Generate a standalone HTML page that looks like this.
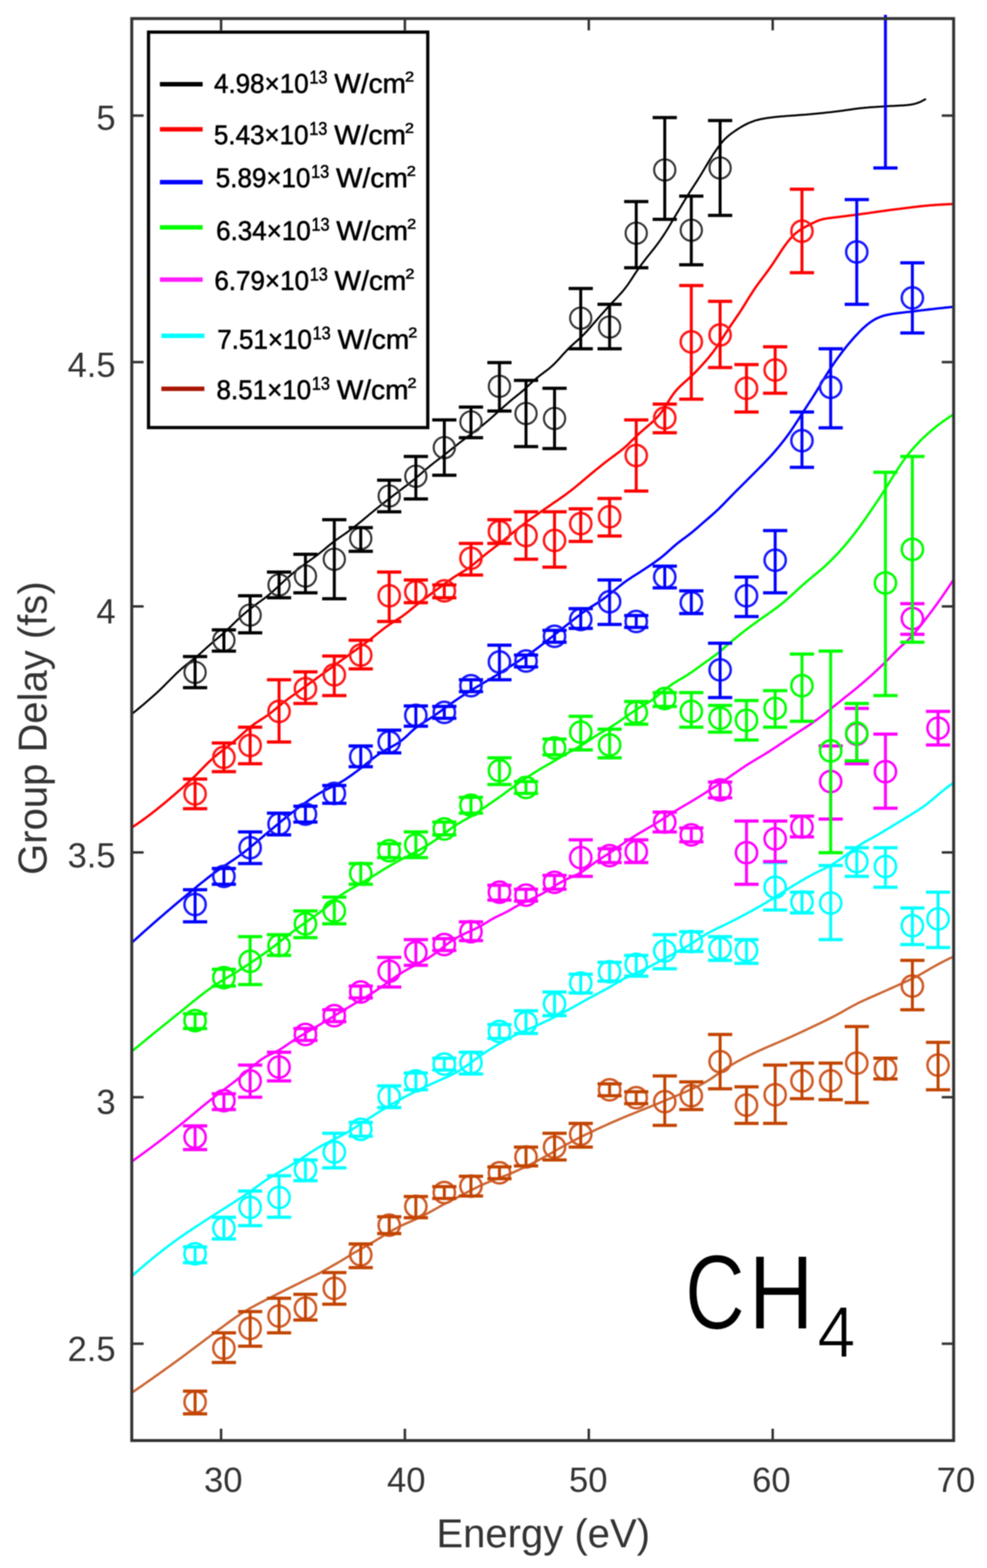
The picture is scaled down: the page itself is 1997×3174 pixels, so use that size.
<!DOCTYPE html><html><head><meta charset="utf-8"><title>Group Delay vs Energy (CH4)</title><style>html,body{margin:0;padding:0;background:#fff;}svg{display:block;} #wrap{width:1997px;height:3174px;overflow:hidden;filter:blur(0.8px);}</style></head><body><div id="wrap">
<svg xmlns="http://www.w3.org/2000/svg" width="1997" height="3174" viewBox="0 0 1997 3174">
<rect x="0" y="0" width="1997" height="3174" fill="#ffffff"/>
<defs><clipPath id="cc"><rect x="266.6" y="37.6" width="1662.9" height="2878.4"/></clipPath></defs>
<defs><clipPath id="ca"><rect x="266.6" y="28.0" width="1662.9" height="2888.0"/></clipPath></defs>
<g><path clip-path="url(#cc)" d="M267.0,2819.0 L271.0,2816.3 L275.0,2813.5 L279.0,2810.7 L283.0,2808.0 L287.0,2805.2 L291.0,2802.4 L295.0,2799.6 L299.0,2796.8 L303.0,2794.0 L307.0,2791.2 L311.0,2788.4 L315.0,2785.5 L319.0,2782.7 L323.0,2779.9 L327.0,2777.0 L331.0,2774.2 L335.0,2771.3 L339.0,2768.4 L343.0,2765.6 L347.0,2762.7 L351.0,2759.8 L355.0,2756.9 L359.0,2754.0 L363.0,2751.0 L367.0,2748.1 L371.0,2745.1 L375.0,2742.2 L379.0,2739.2 L383.0,2736.2 L387.0,2733.2 L391.0,2730.2 L395.0,2727.2 L399.0,2724.2 L403.0,2721.1 L407.0,2718.1 L411.0,2715.1 L415.0,2712.1 L419.0,2709.1 L423.0,2706.1 L427.0,2703.1 L431.0,2700.2 L435.0,2697.2 L439.0,2694.2 L443.0,2691.3 L447.0,2688.3 L451.0,2685.3 L455.0,2682.4 L459.0,2679.4 L463.0,2676.5 L467.0,2673.5 L471.0,2670.7 L475.0,2667.8 L479.0,2665.1 L483.0,2662.4 L487.0,2659.8 L491.0,2657.2 L495.0,2654.8 L499.0,2652.4 L503.0,2650.0 L507.0,2647.7 L511.0,2645.5 L515.0,2643.3 L519.0,2641.1 L523.0,2639.0 L527.0,2636.9 L531.0,2634.8 L535.0,2632.8 L539.0,2630.7 L543.0,2628.7 L547.0,2626.6 L551.0,2624.6 L555.0,2622.6 L559.0,2620.5 L563.0,2618.5 L567.0,2616.5 L571.0,2614.5 L575.0,2612.5 L579.0,2610.5 L583.0,2608.5 L587.0,2606.5 L591.0,2604.5 L595.0,2602.5 L599.0,2600.5 L603.0,2598.6 L607.0,2596.6 L611.0,2594.6 L615.0,2592.7 L619.0,2590.7 L623.0,2588.7 L627.0,2586.8 L631.0,2584.8 L635.0,2582.9 L639.0,2580.9 L643.0,2578.9 L647.0,2576.8 L651.0,2574.6 L655.0,2572.4 L659.0,2570.1 L663.0,2567.8 L667.0,2565.5 L671.0,2563.2 L675.0,2560.9 L679.0,2558.6 L683.0,2556.3 L687.0,2554.0 L691.0,2551.6 L695.0,2549.2 L699.0,2546.7 L703.0,2544.2 L707.0,2541.7 L711.0,2539.2 L715.0,2536.8 L719.0,2534.5 L723.0,2532.3 L727.0,2530.1 L731.0,2527.9 L735.0,2525.7 L739.0,2523.5 L743.0,2521.2 L747.0,2518.8 L751.0,2516.5 L755.0,2514.1 L759.0,2511.7 L763.0,2509.3 L767.0,2506.9 L771.0,2504.4 L775.0,2502.0 L779.0,2499.5 L783.0,2497.1 L787.0,2494.6 L791.0,2492.3 L795.0,2489.9 L799.0,2487.6 L803.0,2485.5 L807.0,2483.4 L811.0,2481.4 L815.0,2479.5 L819.0,2477.7 L823.0,2476.0 L827.0,2474.3 L831.0,2472.5 L835.0,2470.8 L839.0,2469.0 L843.0,2467.1 L847.0,2465.2 L851.0,2463.3 L855.0,2461.3 L859.0,2459.3 L863.0,2457.2 L867.0,2455.1 L871.0,2452.9 L875.0,2450.7 L879.0,2448.5 L883.0,2446.2 L887.0,2444.0 L891.0,2441.7 L895.0,2439.5 L899.0,2437.4 L903.0,2435.3 L907.0,2433.2 L911.0,2431.1 L915.0,2429.1 L919.0,2427.0 L923.0,2425.0 L927.0,2422.9 L931.0,2420.8 L935.0,2418.7 L939.0,2416.6 L943.0,2414.5 L947.0,2412.4 L951.0,2410.4 L955.0,2408.3 L959.0,2406.3 L963.0,2404.3 L967.0,2402.3 L971.0,2400.4 L975.0,2398.6 L979.0,2396.8 L983.0,2395.0 L987.0,2393.4 L991.0,2391.8 L995.0,2390.2 L999.0,2388.6 L1003.0,2387.1 L1007.0,2385.6 L1011.0,2384.1 L1015.0,2382.6 L1019.0,2381.1 L1023.0,2379.6 L1027.0,2378.0 L1031.0,2376.4 L1035.0,2374.7 L1039.0,2373.0 L1043.0,2371.2 L1047.0,2369.4 L1051.0,2367.6 L1055.0,2365.7 L1059.0,2363.8 L1063.0,2361.9 L1067.0,2359.9 L1071.0,2357.9 L1075.0,2355.9 L1079.0,2353.9 L1083.0,2351.9 L1087.0,2349.8 L1091.0,2347.7 L1095.0,2345.6 L1099.0,2343.4 L1103.0,2341.2 L1107.0,2339.0 L1111.0,2336.8 L1115.0,2334.5 L1119.0,2332.1 L1123.0,2329.8 L1127.0,2327.5 L1131.0,2325.1 L1135.0,2322.8 L1139.0,2320.6 L1143.0,2318.3 L1147.0,2316.1 L1151.0,2314.0 L1155.0,2311.9 L1159.0,2309.8 L1163.0,2307.7 L1167.0,2305.7 L1171.0,2303.6 L1175.0,2301.6 L1179.0,2299.7 L1183.0,2297.7 L1187.0,2295.7 L1191.0,2293.8 L1195.0,2291.9 L1199.0,2290.0 L1203.0,2288.1 L1207.0,2286.2 L1211.0,2284.4 L1215.0,2282.5 L1219.0,2280.7 L1223.0,2278.9 L1227.0,2277.1 L1231.0,2275.3 L1235.0,2273.5 L1239.0,2271.7 L1243.0,2270.0 L1247.0,2268.3 L1251.0,2266.5 L1255.0,2264.8 L1259.0,2263.1 L1263.0,2261.4 L1267.0,2259.8 L1271.0,2258.1 L1275.0,2256.5 L1279.0,2254.9 L1283.0,2253.3 L1287.0,2251.7 L1291.0,2250.1 L1295.0,2248.4 L1299.0,2246.8 L1303.0,2245.2 L1307.0,2243.6 L1311.0,2242.0 L1315.0,2240.4 L1319.0,2238.7 L1323.0,2237.1 L1327.0,2235.5 L1331.0,2233.9 L1335.0,2232.2 L1339.0,2230.6 L1343.0,2228.9 L1347.0,2227.3 L1351.0,2225.6 L1355.0,2224.0 L1359.0,2222.3 L1363.0,2220.6 L1367.0,2218.8 L1371.0,2217.1 L1375.0,2215.4 L1379.0,2213.7 L1383.0,2211.9 L1387.0,2210.2 L1391.0,2208.4 L1395.0,2206.6 L1399.0,2204.8 L1403.0,2202.9 L1407.0,2201.1 L1411.0,2199.1 L1415.0,2197.1 L1419.0,2195.0 L1423.0,2192.9 L1427.0,2190.6 L1431.0,2188.2 L1435.0,2185.8 L1439.0,2183.2 L1443.0,2180.5 L1447.0,2177.7 L1451.0,2174.9 L1455.0,2172.1 L1459.0,2169.2 L1463.0,2166.4 L1467.0,2163.7 L1471.0,2161.1 L1475.0,2158.6 L1479.0,2156.1 L1483.0,2153.8 L1487.0,2151.5 L1491.0,2149.2 L1495.0,2147.1 L1499.0,2145.0 L1503.0,2142.9 L1507.0,2140.8 L1511.0,2138.8 L1515.0,2136.9 L1519.0,2134.9 L1523.0,2133.0 L1527.0,2131.1 L1531.0,2129.2 L1535.0,2127.3 L1539.0,2125.5 L1543.0,2123.7 L1547.0,2121.9 L1551.0,2120.1 L1555.0,2118.4 L1559.0,2116.7 L1563.0,2115.0 L1567.0,2113.3 L1571.0,2111.6 L1575.0,2109.9 L1579.0,2108.1 L1583.0,2106.4 L1587.0,2104.7 L1591.0,2102.9 L1595.0,2101.2 L1599.0,2099.4 L1603.0,2097.6 L1607.0,2095.8 L1611.0,2093.9 L1615.0,2092.1 L1619.0,2090.2 L1623.0,2088.4 L1627.0,2086.5 L1631.0,2084.6 L1635.0,2082.7 L1639.0,2080.8 L1643.0,2078.9 L1647.0,2077.0 L1651.0,2075.1 L1655.0,2073.2 L1659.0,2071.3 L1663.0,2069.4 L1667.0,2067.4 L1671.0,2065.5 L1675.0,2063.5 L1679.0,2061.5 L1683.0,2059.5 L1687.0,2057.4 L1691.0,2055.3 L1695.0,2053.2 L1699.0,2051.0 L1703.0,2048.8 L1707.0,2046.5 L1711.0,2044.2 L1715.0,2042.0 L1719.0,2039.7 L1723.0,2037.5 L1727.0,2035.4 L1731.0,2033.3 L1735.0,2031.2 L1739.0,2029.2 L1743.0,2027.3 L1747.0,2025.4 L1751.0,2023.6 L1755.0,2021.8 L1759.0,2020.0 L1763.0,2018.2 L1767.0,2016.5 L1771.0,2014.7 L1775.0,2013.0 L1779.0,2011.2 L1783.0,2009.4 L1787.0,2007.6 L1791.0,2005.9 L1795.0,2004.1 L1799.0,2002.3 L1803.0,2000.5 L1807.0,1998.7 L1811.0,1996.9 L1815.0,1995.1 L1819.0,1993.3 L1823.0,1991.5 L1827.0,1989.6 L1831.0,1987.8 L1835.0,1986.0 L1839.0,1984.1 L1843.0,1982.2 L1847.0,1980.3 L1851.0,1978.3 L1855.0,1976.3 L1859.0,1974.2 L1863.0,1972.0 L1867.0,1969.7 L1871.0,1967.4 L1875.0,1965.1 L1879.0,1962.7 L1883.0,1960.3 L1887.0,1958.0 L1891.0,1955.8 L1895.0,1953.6 L1899.0,1951.4 L1903.0,1949.3 L1907.0,1947.2 L1911.0,1945.2 L1915.0,1943.2 L1919.0,1941.2 L1923.0,1939.3 L1927.0,1937.4 L1930.0,1936.0" fill="none" stroke="#cc6633" stroke-width="4.8" stroke-linejoin="round" stroke-linecap="round"/><path clip-path="url(#cc)" d="M267.0,2583.0 L271.0,2579.4 L275.0,2575.9 L279.0,2572.4 L283.0,2568.9 L287.0,2565.5 L291.0,2562.1 L295.0,2558.7 L299.0,2555.3 L303.0,2552.0 L307.0,2548.7 L311.0,2545.4 L315.0,2542.2 L319.0,2538.9 L323.0,2535.8 L327.0,2532.6 L331.0,2529.5 L335.0,2526.4 L339.0,2523.3 L343.0,2520.3 L347.0,2517.3 L351.0,2514.4 L355.0,2511.5 L359.0,2508.6 L363.0,2505.8 L367.0,2503.0 L371.0,2500.2 L375.0,2497.5 L379.0,2494.8 L383.0,2492.1 L387.0,2489.4 L391.0,2486.8 L395.0,2484.1 L399.0,2481.5 L403.0,2478.9 L407.0,2476.3 L411.0,2473.7 L415.0,2471.1 L419.0,2468.5 L423.0,2465.9 L427.0,2463.3 L431.0,2460.7 L435.0,2458.1 L439.0,2455.6 L443.0,2453.0 L447.0,2450.5 L451.0,2447.9 L455.0,2445.4 L459.0,2442.9 L463.0,2440.3 L467.0,2437.8 L471.0,2435.3 L475.0,2432.7 L479.0,2430.1 L483.0,2427.5 L487.0,2424.9 L491.0,2422.3 L495.0,2419.6 L499.0,2416.9 L503.0,2414.1 L507.0,2411.3 L511.0,2408.4 L515.0,2405.5 L519.0,2402.5 L523.0,2399.6 L527.0,2396.7 L531.0,2393.8 L535.0,2391.0 L539.0,2388.3 L543.0,2385.7 L547.0,2383.1 L551.0,2380.7 L555.0,2378.3 L559.0,2376.0 L563.0,2373.7 L567.0,2371.4 L571.0,2369.1 L575.0,2366.9 L579.0,2364.6 L583.0,2362.2 L587.0,2359.8 L591.0,2357.3 L595.0,2354.8 L599.0,2352.3 L603.0,2349.7 L607.0,2347.0 L611.0,2344.4 L615.0,2341.7 L619.0,2339.1 L623.0,2336.4 L627.0,2333.8 L631.0,2331.2 L635.0,2328.7 L639.0,2326.2 L643.0,2323.8 L647.0,2321.4 L651.0,2319.1 L655.0,2316.9 L659.0,2314.8 L663.0,2312.8 L667.0,2310.7 L671.0,2308.7 L675.0,2306.8 L679.0,2304.8 L683.0,2302.8 L687.0,2300.8 L691.0,2298.7 L695.0,2296.5 L699.0,2294.3 L703.0,2292.0 L707.0,2289.6 L711.0,2287.2 L715.0,2284.7 L719.0,2282.1 L723.0,2279.5 L727.0,2276.8 L731.0,2274.2 L735.0,2271.5 L739.0,2268.8 L743.0,2266.2 L747.0,2263.5 L751.0,2260.9 L755.0,2258.4 L759.0,2255.8 L763.0,2253.3 L767.0,2250.8 L771.0,2248.3 L775.0,2245.9 L779.0,2243.4 L783.0,2241.0 L787.0,2238.6 L791.0,2236.2 L795.0,2233.8 L799.0,2231.5 L803.0,2229.2 L807.0,2227.0 L811.0,2224.8 L815.0,2222.6 L819.0,2220.5 L823.0,2218.4 L827.0,2216.3 L831.0,2214.3 L835.0,2212.3 L839.0,2210.3 L843.0,2208.4 L847.0,2206.4 L851.0,2204.5 L855.0,2202.6 L859.0,2200.7 L863.0,2198.8 L867.0,2196.9 L871.0,2195.1 L875.0,2193.2 L879.0,2191.4 L883.0,2189.6 L887.0,2187.8 L891.0,2186.1 L895.0,2184.3 L899.0,2182.5 L903.0,2180.7 L907.0,2178.9 L911.0,2177.0 L915.0,2175.0 L919.0,2173.0 L923.0,2170.8 L927.0,2168.5 L931.0,2166.1 L935.0,2163.6 L939.0,2160.9 L943.0,2158.2 L947.0,2155.3 L951.0,2152.4 L955.0,2149.4 L959.0,2146.4 L963.0,2143.5 L967.0,2140.6 L971.0,2137.7 L975.0,2134.9 L979.0,2132.2 L983.0,2129.6 L987.0,2127.0 L991.0,2124.5 L995.0,2122.0 L999.0,2119.5 L1003.0,2117.1 L1007.0,2114.7 L1011.0,2112.4 L1015.0,2110.1 L1019.0,2107.8 L1023.0,2105.6 L1027.0,2103.4 L1031.0,2101.3 L1035.0,2099.2 L1039.0,2097.2 L1043.0,2095.2 L1047.0,2093.3 L1051.0,2091.5 L1055.0,2089.6 L1059.0,2087.8 L1063.0,2086.1 L1067.0,2084.3 L1071.0,2082.5 L1075.0,2080.8 L1079.0,2079.0 L1083.0,2077.2 L1087.0,2075.4 L1091.0,2073.6 L1095.0,2071.8 L1099.0,2069.9 L1103.0,2068.1 L1107.0,2066.2 L1111.0,2064.3 L1115.0,2062.3 L1119.0,2060.4 L1123.0,2058.4 L1127.0,2056.3 L1131.0,2054.2 L1135.0,2052.1 L1139.0,2050.0 L1143.0,2047.8 L1147.0,2045.7 L1151.0,2043.5 L1155.0,2041.3 L1159.0,2039.1 L1163.0,2036.9 L1167.0,2034.6 L1171.0,2032.4 L1175.0,2030.1 L1179.0,2027.9 L1183.0,2025.7 L1187.0,2023.4 L1191.0,2021.2 L1195.0,2019.0 L1199.0,2016.8 L1203.0,2014.6 L1207.0,2012.5 L1211.0,2010.4 L1215.0,2008.2 L1219.0,2006.1 L1223.0,2004.0 L1227.0,2001.8 L1231.0,1999.6 L1235.0,1997.3 L1239.0,1994.9 L1243.0,1992.5 L1247.0,1990.1 L1251.0,1987.6 L1255.0,1985.3 L1259.0,1983.0 L1263.0,1980.9 L1267.0,1978.9 L1271.0,1976.9 L1275.0,1975.1 L1279.0,1973.3 L1283.0,1971.5 L1287.0,1969.7 L1291.0,1968.0 L1295.0,1966.1 L1299.0,1964.3 L1303.0,1962.4 L1307.0,1960.4 L1311.0,1958.4 L1315.0,1956.3 L1319.0,1954.2 L1323.0,1952.1 L1327.0,1949.9 L1331.0,1947.8 L1335.0,1945.6 L1339.0,1943.4 L1343.0,1941.3 L1347.0,1939.1 L1351.0,1937.0 L1355.0,1934.8 L1359.0,1932.7 L1363.0,1930.5 L1367.0,1928.4 L1371.0,1926.2 L1375.0,1924.0 L1379.0,1921.8 L1383.0,1919.6 L1387.0,1917.3 L1391.0,1915.0 L1395.0,1912.5 L1399.0,1910.1 L1403.0,1907.5 L1407.0,1904.9 L1411.0,1902.3 L1415.0,1899.6 L1419.0,1897.0 L1423.0,1894.5 L1427.0,1892.0 L1431.0,1889.7 L1435.0,1887.5 L1439.0,1885.3 L1443.0,1883.3 L1447.0,1881.3 L1451.0,1879.3 L1455.0,1877.4 L1459.0,1875.5 L1463.0,1873.7 L1467.0,1871.8 L1471.0,1869.8 L1475.0,1867.9 L1479.0,1865.9 L1483.0,1863.9 L1487.0,1861.8 L1491.0,1859.8 L1495.0,1857.7 L1499.0,1855.6 L1503.0,1853.4 L1507.0,1851.3 L1511.0,1849.2 L1515.0,1847.0 L1519.0,1844.8 L1523.0,1842.6 L1527.0,1840.4 L1531.0,1838.1 L1535.0,1835.9 L1539.0,1833.6 L1543.0,1831.2 L1547.0,1828.9 L1551.0,1826.5 L1555.0,1824.0 L1559.0,1821.6 L1563.0,1819.1 L1567.0,1816.5 L1571.0,1814.0 L1575.0,1811.5 L1579.0,1808.9 L1583.0,1806.4 L1587.0,1803.9 L1591.0,1801.4 L1595.0,1799.0 L1599.0,1796.5 L1603.0,1794.1 L1607.0,1791.6 L1611.0,1789.2 L1615.0,1786.8 L1619.0,1784.4 L1623.0,1782.0 L1627.0,1779.7 L1631.0,1777.4 L1635.0,1775.2 L1639.0,1773.0 L1643.0,1770.8 L1647.0,1768.7 L1651.0,1766.7 L1655.0,1764.7 L1659.0,1762.8 L1663.0,1760.8 L1667.0,1758.9 L1671.0,1756.9 L1675.0,1754.8 L1679.0,1752.6 L1683.0,1750.3 L1687.0,1747.8 L1691.0,1745.3 L1695.0,1742.7 L1699.0,1740.0 L1703.0,1737.2 L1707.0,1734.3 L1711.0,1731.3 L1715.0,1728.3 L1719.0,1725.3 L1723.0,1722.2 L1727.0,1719.3 L1731.0,1716.3 L1735.0,1713.5 L1739.0,1710.9 L1743.0,1708.3 L1747.0,1705.9 L1751.0,1703.6 L1755.0,1701.4 L1759.0,1699.2 L1763.0,1697.1 L1767.0,1694.9 L1771.0,1692.6 L1775.0,1690.4 L1779.0,1688.0 L1783.0,1685.7 L1787.0,1683.3 L1791.0,1680.9 L1795.0,1678.4 L1799.0,1676.0 L1803.0,1673.6 L1807.0,1671.1 L1811.0,1668.7 L1815.0,1666.3 L1819.0,1663.9 L1823.0,1661.4 L1827.0,1659.0 L1831.0,1656.6 L1835.0,1654.1 L1839.0,1651.7 L1843.0,1649.2 L1847.0,1646.8 L1851.0,1644.3 L1855.0,1641.8 L1859.0,1639.2 L1863.0,1636.5 L1867.0,1633.7 L1871.0,1630.9 L1875.0,1627.8 L1879.0,1624.7 L1883.0,1621.4 L1887.0,1618.0 L1891.0,1614.6 L1895.0,1611.2 L1899.0,1607.8 L1903.0,1604.5 L1907.0,1601.3 L1911.0,1598.1 L1915.0,1595.0 L1919.0,1592.0 L1923.0,1589.0 L1927.0,1586.1 L1930.0,1584.0" fill="none" stroke="#00ffff" stroke-width="4.8" stroke-linejoin="round" stroke-linecap="round"/><path clip-path="url(#cc)" d="M267.0,2351.0 L271.0,2348.2 L275.0,2345.3 L279.0,2342.4 L283.0,2339.5 L287.0,2336.6 L291.0,2333.7 L295.0,2330.7 L299.0,2327.8 L303.0,2324.8 L307.0,2321.9 L311.0,2318.9 L315.0,2315.9 L319.0,2312.8 L323.0,2309.8 L327.0,2306.8 L331.0,2303.7 L335.0,2300.6 L339.0,2297.5 L343.0,2294.4 L347.0,2291.3 L351.0,2288.1 L355.0,2284.9 L359.0,2281.7 L363.0,2278.5 L367.0,2275.2 L371.0,2272.0 L375.0,2268.6 L379.0,2265.3 L383.0,2262.0 L387.0,2258.6 L391.0,2255.3 L395.0,2251.9 L399.0,2248.6 L403.0,2245.3 L407.0,2241.9 L411.0,2238.6 L415.0,2235.4 L419.0,2232.1 L423.0,2228.9 L427.0,2225.7 L431.0,2222.5 L435.0,2219.4 L439.0,2216.3 L443.0,2213.3 L447.0,2210.2 L451.0,2207.2 L455.0,2204.2 L459.0,2201.2 L463.0,2198.2 L467.0,2195.1 L471.0,2192.1 L475.0,2189.0 L479.0,2185.9 L483.0,2182.7 L487.0,2179.5 L491.0,2176.1 L495.0,2172.7 L499.0,2169.3 L503.0,2165.8 L507.0,2162.3 L511.0,2158.8 L515.0,2155.4 L519.0,2152.1 L523.0,2149.0 L527.0,2146.0 L531.0,2143.2 L535.0,2140.7 L539.0,2138.4 L543.0,2136.3 L547.0,2134.4 L551.0,2132.5 L555.0,2130.7 L559.0,2128.7 L563.0,2126.5 L567.0,2124.2 L571.0,2121.6 L575.0,2119.0 L579.0,2116.2 L583.0,2113.4 L587.0,2110.7 L591.0,2108.0 L595.0,2105.3 L599.0,2102.8 L603.0,2100.3 L607.0,2097.8 L611.0,2095.4 L615.0,2093.0 L619.0,2090.7 L623.0,2088.3 L627.0,2086.0 L631.0,2083.6 L635.0,2081.3 L639.0,2078.9 L643.0,2076.5 L647.0,2074.1 L651.0,2071.8 L655.0,2069.3 L659.0,2066.9 L663.0,2064.5 L667.0,2062.1 L671.0,2059.6 L675.0,2057.2 L679.0,2054.8 L683.0,2052.3 L687.0,2049.9 L691.0,2047.5 L695.0,2045.1 L699.0,2042.7 L703.0,2040.3 L707.0,2037.9 L711.0,2035.5 L715.0,2033.2 L719.0,2030.8 L723.0,2028.5 L727.0,2026.1 L731.0,2023.8 L735.0,2021.4 L739.0,2019.0 L743.0,2016.6 L747.0,2014.1 L751.0,2011.6 L755.0,2009.1 L759.0,2006.5 L763.0,2003.8 L767.0,2001.0 L771.0,1998.2 L775.0,1995.4 L779.0,1992.5 L783.0,1989.6 L787.0,1986.7 L791.0,1983.8 L795.0,1981.0 L799.0,1978.2 L803.0,1975.4 L807.0,1972.8 L811.0,1970.2 L815.0,1967.7 L819.0,1965.3 L823.0,1963.0 L827.0,1960.8 L831.0,1958.7 L835.0,1956.5 L839.0,1954.5 L843.0,1952.4 L847.0,1950.3 L851.0,1948.2 L855.0,1946.0 L859.0,1943.8 L863.0,1941.5 L867.0,1939.1 L871.0,1936.5 L875.0,1933.8 L879.0,1931.0 L883.0,1928.0 L887.0,1925.0 L891.0,1921.8 L895.0,1918.7 L899.0,1915.5 L903.0,1912.4 L907.0,1909.4 L911.0,1906.5 L915.0,1903.8 L919.0,1901.2 L923.0,1898.8 L927.0,1896.5 L931.0,1894.4 L935.0,1892.4 L939.0,1890.5 L943.0,1888.6 L947.0,1886.8 L951.0,1885.0 L955.0,1883.2 L959.0,1881.3 L963.0,1879.4 L967.0,1877.4 L971.0,1875.2 L975.0,1873.0 L979.0,1870.6 L983.0,1868.2 L987.0,1865.7 L991.0,1863.3 L995.0,1860.9 L999.0,1858.7 L1003.0,1856.6 L1007.0,1854.6 L1011.0,1852.7 L1015.0,1850.8 L1019.0,1848.9 L1023.0,1846.9 L1027.0,1844.8 L1031.0,1842.6 L1035.0,1840.3 L1039.0,1837.9 L1043.0,1835.6 L1047.0,1833.4 L1051.0,1831.2 L1055.0,1829.2 L1059.0,1827.2 L1063.0,1825.4 L1067.0,1823.5 L1071.0,1821.7 L1075.0,1819.9 L1079.0,1818.1 L1083.0,1816.2 L1087.0,1814.2 L1091.0,1812.2 L1095.0,1810.1 L1099.0,1807.9 L1103.0,1805.5 L1107.0,1803.1 L1111.0,1800.6 L1115.0,1798.1 L1119.0,1795.5 L1123.0,1793.0 L1127.0,1790.5 L1131.0,1788.1 L1135.0,1785.8 L1139.0,1783.6 L1143.0,1781.5 L1147.0,1779.5 L1151.0,1777.7 L1155.0,1775.9 L1159.0,1774.1 L1163.0,1772.3 L1167.0,1770.4 L1171.0,1768.4 L1175.0,1766.2 L1179.0,1763.7 L1183.0,1761.1 L1187.0,1758.2 L1191.0,1755.3 L1195.0,1752.3 L1199.0,1749.3 L1203.0,1746.4 L1207.0,1743.5 L1211.0,1740.8 L1215.0,1738.2 L1219.0,1735.7 L1223.0,1733.2 L1227.0,1730.7 L1231.0,1728.2 L1235.0,1725.6 L1239.0,1722.9 L1243.0,1720.2 L1247.0,1717.4 L1251.0,1714.5 L1255.0,1711.7 L1259.0,1708.9 L1263.0,1706.1 L1267.0,1703.3 L1271.0,1700.7 L1275.0,1698.1 L1279.0,1695.5 L1283.0,1693.0 L1287.0,1690.5 L1291.0,1688.1 L1295.0,1685.7 L1299.0,1683.4 L1303.0,1681.1 L1307.0,1678.7 L1311.0,1676.4 L1315.0,1674.0 L1319.0,1671.7 L1323.0,1669.2 L1327.0,1666.8 L1331.0,1664.3 L1335.0,1661.7 L1339.0,1659.2 L1343.0,1656.6 L1347.0,1654.0 L1351.0,1651.4 L1355.0,1648.8 L1359.0,1646.2 L1363.0,1643.7 L1367.0,1641.2 L1371.0,1638.8 L1375.0,1636.4 L1379.0,1634.0 L1383.0,1631.7 L1387.0,1629.3 L1391.0,1627.0 L1395.0,1624.7 L1399.0,1622.3 L1403.0,1619.9 L1407.0,1617.4 L1411.0,1615.0 L1415.0,1612.5 L1419.0,1610.0 L1423.0,1607.4 L1427.0,1604.9 L1431.0,1602.3 L1435.0,1599.8 L1439.0,1597.2 L1443.0,1594.6 L1447.0,1592.0 L1451.0,1589.4 L1455.0,1586.7 L1459.0,1584.1 L1463.0,1581.4 L1467.0,1578.7 L1471.0,1576.0 L1475.0,1573.3 L1479.0,1570.6 L1483.0,1567.8 L1487.0,1565.0 L1491.0,1562.2 L1495.0,1559.4 L1499.0,1556.6 L1503.0,1553.9 L1507.0,1551.3 L1511.0,1548.6 L1515.0,1546.1 L1519.0,1543.6 L1523.0,1541.2 L1527.0,1538.8 L1531.0,1536.4 L1535.0,1534.0 L1539.0,1531.6 L1543.0,1529.2 L1547.0,1526.8 L1551.0,1524.4 L1555.0,1521.9 L1559.0,1519.3 L1563.0,1516.7 L1567.0,1514.1 L1571.0,1511.5 L1575.0,1508.8 L1579.0,1506.1 L1583.0,1503.5 L1587.0,1500.8 L1591.0,1498.1 L1595.0,1495.4 L1599.0,1492.7 L1603.0,1490.1 L1607.0,1487.4 L1611.0,1484.8 L1615.0,1482.2 L1619.0,1479.6 L1623.0,1477.0 L1627.0,1474.4 L1631.0,1471.8 L1635.0,1469.2 L1639.0,1466.5 L1643.0,1463.7 L1647.0,1460.9 L1651.0,1458.0 L1655.0,1455.1 L1659.0,1452.1 L1663.0,1449.1 L1667.0,1445.9 L1671.0,1442.8 L1675.0,1439.6 L1679.0,1436.4 L1683.0,1433.2 L1687.0,1429.9 L1691.0,1426.7 L1695.0,1423.5 L1699.0,1420.3 L1703.0,1417.1 L1707.0,1413.9 L1711.0,1410.7 L1715.0,1407.5 L1719.0,1404.3 L1723.0,1401.1 L1727.0,1397.8 L1731.0,1394.6 L1735.0,1391.3 L1739.0,1387.9 L1743.0,1384.6 L1747.0,1381.2 L1751.0,1377.7 L1755.0,1374.2 L1759.0,1370.7 L1763.0,1367.1 L1767.0,1363.5 L1771.0,1359.8 L1775.0,1356.1 L1779.0,1352.3 L1783.0,1348.5 L1787.0,1344.7 L1791.0,1340.7 L1795.0,1336.7 L1799.0,1332.6 L1803.0,1328.4 L1807.0,1324.3 L1811.0,1320.2 L1815.0,1316.2 L1819.0,1312.3 L1823.0,1308.6 L1827.0,1304.9 L1831.0,1301.3 L1835.0,1297.6 L1839.0,1293.8 L1843.0,1289.7 L1847.0,1285.4 L1851.0,1280.8 L1855.0,1276.0 L1859.0,1271.0 L1863.0,1265.9 L1867.0,1260.7 L1871.0,1255.6 L1875.0,1250.3 L1879.0,1245.1 L1883.0,1239.8 L1887.0,1234.4 L1891.0,1229.0 L1895.0,1223.5 L1899.0,1217.9 L1903.0,1212.3 L1907.0,1206.5 L1911.0,1200.7 L1915.0,1194.8 L1919.0,1188.9 L1923.0,1182.8 L1927.0,1176.7 L1930.0,1172.0" fill="none" stroke="#ff00ff" stroke-width="4.8" stroke-linejoin="round" stroke-linecap="round"/><path clip-path="url(#cc)" d="M267.0,2128.0 L271.0,2124.7 L275.0,2121.4 L279.0,2118.1 L283.0,2114.8 L287.0,2111.5 L291.0,2108.3 L295.0,2105.0 L299.0,2101.7 L303.0,2098.4 L307.0,2095.2 L311.0,2091.9 L315.0,2088.7 L319.0,2085.4 L323.0,2082.2 L327.0,2079.0 L331.0,2075.7 L335.0,2072.5 L339.0,2069.3 L343.0,2066.0 L347.0,2062.8 L351.0,2059.6 L355.0,2056.4 L359.0,2053.2 L363.0,2050.0 L367.0,2046.7 L371.0,2043.5 L375.0,2040.2 L379.0,2037.0 L383.0,2033.7 L387.0,2030.5 L391.0,2027.2 L395.0,2024.0 L399.0,2020.8 L403.0,2017.6 L407.0,2014.5 L411.0,2011.4 L415.0,2008.4 L419.0,2005.4 L423.0,2002.5 L427.0,1999.6 L431.0,1996.9 L435.0,1994.2 L439.0,1991.6 L443.0,1989.0 L447.0,1986.5 L451.0,1984.0 L455.0,1981.6 L459.0,1979.2 L463.0,1976.8 L467.0,1974.4 L471.0,1972.0 L475.0,1969.6 L479.0,1967.2 L483.0,1964.7 L487.0,1962.2 L491.0,1959.6 L495.0,1957.0 L499.0,1954.4 L503.0,1951.8 L507.0,1949.1 L511.0,1946.5 L515.0,1943.8 L519.0,1941.1 L523.0,1938.3 L527.0,1935.5 L531.0,1932.7 L535.0,1929.9 L539.0,1927.0 L543.0,1924.1 L547.0,1921.2 L551.0,1918.1 L555.0,1915.1 L559.0,1912.0 L563.0,1908.9 L567.0,1905.7 L571.0,1902.6 L575.0,1899.4 L579.0,1896.3 L583.0,1893.1 L587.0,1890.0 L591.0,1886.9 L595.0,1883.9 L599.0,1880.9 L603.0,1878.0 L607.0,1875.1 L611.0,1872.3 L615.0,1869.5 L619.0,1866.8 L623.0,1864.0 L627.0,1861.3 L631.0,1858.5 L635.0,1855.7 L639.0,1852.9 L643.0,1849.9 L647.0,1846.9 L651.0,1843.8 L655.0,1840.6 L659.0,1837.3 L663.0,1834.0 L667.0,1830.6 L671.0,1827.1 L675.0,1823.7 L679.0,1820.4 L683.0,1817.2 L687.0,1814.2 L691.0,1811.3 L695.0,1808.6 L699.0,1806.0 L703.0,1803.5 L707.0,1801.2 L711.0,1798.9 L715.0,1796.7 L719.0,1794.5 L723.0,1792.2 L727.0,1790.0 L731.0,1787.7 L735.0,1785.3 L739.0,1782.9 L743.0,1780.5 L747.0,1778.1 L751.0,1775.6 L755.0,1773.2 L759.0,1770.7 L763.0,1768.2 L767.0,1765.7 L771.0,1763.3 L775.0,1760.8 L779.0,1758.4 L783.0,1756.0 L787.0,1753.6 L791.0,1751.3 L795.0,1749.0 L799.0,1746.7 L803.0,1744.5 L807.0,1742.4 L811.0,1740.2 L815.0,1738.2 L819.0,1736.1 L823.0,1734.1 L827.0,1732.0 L831.0,1730.0 L835.0,1727.9 L839.0,1725.8 L843.0,1723.6 L847.0,1721.4 L851.0,1719.1 L855.0,1716.8 L859.0,1714.4 L863.0,1712.0 L867.0,1709.5 L871.0,1707.0 L875.0,1704.4 L879.0,1701.8 L883.0,1699.1 L887.0,1696.3 L891.0,1693.4 L895.0,1690.4 L899.0,1687.4 L903.0,1684.3 L907.0,1681.2 L911.0,1678.2 L915.0,1675.3 L919.0,1672.5 L923.0,1669.8 L927.0,1667.3 L931.0,1665.0 L935.0,1662.7 L939.0,1660.5 L943.0,1658.4 L947.0,1656.1 L951.0,1653.8 L955.0,1651.4 L959.0,1648.8 L963.0,1646.2 L967.0,1643.5 L971.0,1640.8 L975.0,1638.0 L979.0,1635.3 L983.0,1632.5 L987.0,1629.7 L991.0,1627.0 L995.0,1624.3 L999.0,1621.5 L1003.0,1618.7 L1007.0,1616.0 L1011.0,1613.1 L1015.0,1610.3 L1019.0,1607.3 L1023.0,1604.4 L1027.0,1601.4 L1031.0,1598.4 L1035.0,1595.5 L1039.0,1592.5 L1043.0,1589.6 L1047.0,1586.8 L1051.0,1584.0 L1055.0,1581.2 L1059.0,1578.5 L1063.0,1575.8 L1067.0,1573.2 L1071.0,1570.6 L1075.0,1568.0 L1079.0,1565.4 L1083.0,1562.9 L1087.0,1560.5 L1091.0,1558.0 L1095.0,1555.7 L1099.0,1553.3 L1103.0,1551.0 L1107.0,1548.7 L1111.0,1546.4 L1115.0,1544.1 L1119.0,1541.8 L1123.0,1539.5 L1127.0,1537.2 L1131.0,1534.8 L1135.0,1532.5 L1139.0,1530.1 L1143.0,1527.8 L1147.0,1525.4 L1151.0,1523.1 L1155.0,1520.8 L1159.0,1518.6 L1163.0,1516.3 L1167.0,1514.1 L1171.0,1511.8 L1175.0,1509.5 L1179.0,1507.1 L1183.0,1504.6 L1187.0,1502.0 L1191.0,1499.4 L1195.0,1496.7 L1199.0,1494.0 L1203.0,1491.3 L1207.0,1488.7 L1211.0,1486.2 L1215.0,1483.8 L1219.0,1481.4 L1223.0,1479.1 L1227.0,1476.8 L1231.0,1474.5 L1235.0,1472.1 L1239.0,1469.6 L1243.0,1467.0 L1247.0,1464.4 L1251.0,1461.6 L1255.0,1458.9 L1259.0,1456.1 L1263.0,1453.3 L1267.0,1450.4 L1271.0,1447.6 L1275.0,1444.8 L1279.0,1442.0 L1283.0,1439.4 L1287.0,1436.8 L1291.0,1434.2 L1295.0,1431.8 L1299.0,1429.4 L1303.0,1427.1 L1307.0,1424.7 L1311.0,1422.3 L1315.0,1419.7 L1319.0,1417.0 L1323.0,1414.2 L1327.0,1411.2 L1331.0,1408.0 L1335.0,1404.7 L1339.0,1401.4 L1343.0,1398.0 L1347.0,1394.8 L1351.0,1391.6 L1355.0,1388.5 L1359.0,1385.7 L1363.0,1383.0 L1367.0,1380.5 L1371.0,1378.1 L1375.0,1375.7 L1379.0,1373.4 L1383.0,1371.1 L1387.0,1368.7 L1391.0,1366.2 L1395.0,1363.6 L1399.0,1360.9 L1403.0,1358.1 L1407.0,1355.3 L1411.0,1352.4 L1415.0,1349.4 L1419.0,1346.5 L1423.0,1343.6 L1427.0,1340.8 L1431.0,1337.9 L1435.0,1335.1 L1439.0,1332.2 L1443.0,1329.3 L1447.0,1326.4 L1451.0,1323.3 L1455.0,1320.1 L1459.0,1316.7 L1463.0,1313.3 L1467.0,1309.8 L1471.0,1306.3 L1475.0,1302.8 L1479.0,1299.4 L1483.0,1296.0 L1487.0,1292.6 L1491.0,1289.3 L1495.0,1286.1 L1499.0,1282.9 L1503.0,1279.8 L1507.0,1276.7 L1511.0,1273.7 L1515.0,1270.7 L1519.0,1267.7 L1523.0,1264.7 L1527.0,1261.8 L1531.0,1258.9 L1535.0,1256.0 L1539.0,1253.1 L1543.0,1250.3 L1547.0,1247.5 L1551.0,1244.7 L1555.0,1241.9 L1559.0,1239.1 L1563.0,1236.3 L1567.0,1233.4 L1571.0,1230.5 L1575.0,1227.5 L1579.0,1224.4 L1583.0,1221.2 L1587.0,1217.8 L1591.0,1214.4 L1595.0,1210.9 L1599.0,1207.3 L1603.0,1203.6 L1607.0,1199.9 L1611.0,1196.2 L1615.0,1192.5 L1619.0,1188.8 L1623.0,1185.2 L1627.0,1181.7 L1631.0,1178.2 L1635.0,1174.8 L1639.0,1171.5 L1643.0,1168.2 L1647.0,1164.9 L1651.0,1161.6 L1655.0,1158.3 L1659.0,1154.9 L1663.0,1151.5 L1667.0,1148.0 L1671.0,1144.3 L1675.0,1140.6 L1679.0,1136.8 L1683.0,1132.8 L1687.0,1128.7 L1691.0,1124.5 L1695.0,1120.3 L1699.0,1115.9 L1703.0,1111.4 L1707.0,1106.9 L1711.0,1102.2 L1715.0,1097.4 L1719.0,1092.6 L1723.0,1087.6 L1727.0,1082.5 L1731.0,1077.3 L1735.0,1072.0 L1739.0,1066.6 L1743.0,1061.1 L1747.0,1055.4 L1751.0,1049.8 L1755.0,1044.0 L1759.0,1038.2 L1763.0,1032.4 L1767.0,1026.5 L1771.0,1020.6 L1775.0,1014.7 L1779.0,1008.6 L1783.0,1002.5 L1787.0,996.3 L1791.0,990.0 L1795.0,983.6 L1799.0,977.2 L1803.0,970.8 L1807.0,964.3 L1811.0,957.9 L1815.0,951.6 L1819.0,945.5 L1823.0,939.5 L1827.0,933.7 L1831.0,928.2 L1835.0,922.9 L1839.0,917.9 L1843.0,913.0 L1847.0,908.4 L1851.0,903.9 L1855.0,899.6 L1859.0,895.4 L1863.0,891.3 L1867.0,887.4 L1871.0,883.6 L1875.0,879.9 L1879.0,876.3 L1883.0,872.8 L1887.0,869.4 L1891.0,866.1 L1895.0,862.9 L1899.0,859.8 L1903.0,856.8 L1907.0,853.8 L1911.0,851.0 L1915.0,848.2 L1919.0,845.4 L1923.0,842.8 L1927.0,840.3 L1930.0,838.5" fill="none" stroke="#00ff00" stroke-width="4.8" stroke-linejoin="round" stroke-linecap="round"/><path clip-path="url(#cc)" d="M267.0,1908.0 L271.0,1904.3 L275.0,1900.7 L279.0,1897.1 L283.0,1893.5 L287.0,1889.9 L291.0,1886.3 L295.0,1882.8 L299.0,1879.2 L303.0,1875.7 L307.0,1872.1 L311.0,1868.6 L315.0,1865.1 L319.0,1861.6 L323.0,1858.2 L327.0,1854.7 L331.0,1851.3 L335.0,1847.8 L339.0,1844.4 L343.0,1841.0 L347.0,1837.6 L351.0,1834.2 L355.0,1830.8 L359.0,1827.4 L363.0,1824.1 L367.0,1820.7 L371.0,1817.4 L375.0,1814.0 L379.0,1810.7 L383.0,1807.4 L387.0,1804.1 L391.0,1800.8 L395.0,1797.5 L399.0,1794.2 L403.0,1790.9 L407.0,1787.7 L411.0,1784.5 L415.0,1781.3 L419.0,1778.1 L423.0,1775.0 L427.0,1771.9 L431.0,1768.9 L435.0,1766.0 L439.0,1763.1 L443.0,1760.2 L447.0,1757.5 L451.0,1754.7 L455.0,1752.0 L459.0,1749.4 L463.0,1746.7 L467.0,1744.1 L471.0,1741.4 L475.0,1738.7 L479.0,1735.9 L483.0,1733.1 L487.0,1730.2 L491.0,1727.2 L495.0,1724.2 L499.0,1721.0 L503.0,1717.8 L507.0,1714.5 L511.0,1711.2 L515.0,1707.9 L519.0,1704.5 L523.0,1701.1 L527.0,1697.7 L531.0,1694.3 L535.0,1690.9 L539.0,1687.5 L543.0,1684.2 L547.0,1680.8 L551.0,1677.5 L555.0,1674.1 L559.0,1670.8 L563.0,1667.5 L567.0,1664.1 L571.0,1660.8 L575.0,1657.6 L579.0,1654.3 L583.0,1651.1 L587.0,1648.0 L591.0,1644.9 L595.0,1641.8 L599.0,1638.8 L603.0,1635.7 L607.0,1632.7 L611.0,1629.8 L615.0,1626.8 L619.0,1624.0 L623.0,1621.1 L627.0,1618.3 L631.0,1615.6 L635.0,1612.9 L639.0,1610.4 L643.0,1607.9 L647.0,1605.5 L651.0,1603.2 L655.0,1601.1 L659.0,1599.0 L663.0,1597.0 L667.0,1595.0 L671.0,1593.0 L675.0,1591.1 L679.0,1589.0 L683.0,1586.9 L687.0,1584.7 L691.0,1582.4 L695.0,1580.0 L699.0,1577.4 L703.0,1574.7 L707.0,1572.0 L711.0,1569.2 L715.0,1566.3 L719.0,1563.4 L723.0,1560.4 L727.0,1557.3 L731.0,1554.2 L735.0,1551.1 L739.0,1547.9 L743.0,1544.7 L747.0,1541.4 L751.0,1538.2 L755.0,1535.0 L759.0,1532.0 L763.0,1529.1 L767.0,1526.3 L771.0,1523.7 L775.0,1521.2 L779.0,1518.9 L783.0,1516.7 L787.0,1514.5 L791.0,1512.4 L795.0,1510.2 L799.0,1507.9 L803.0,1505.5 L807.0,1502.9 L811.0,1500.1 L815.0,1496.9 L819.0,1493.5 L823.0,1489.9 L827.0,1486.1 L831.0,1482.3 L835.0,1478.6 L839.0,1475.2 L843.0,1472.0 L847.0,1469.1 L851.0,1466.3 L855.0,1463.7 L859.0,1461.2 L863.0,1458.8 L867.0,1456.3 L871.0,1453.7 L875.0,1451.1 L879.0,1448.3 L883.0,1445.6 L887.0,1442.7 L891.0,1439.9 L895.0,1437.0 L899.0,1434.1 L903.0,1431.2 L907.0,1428.3 L911.0,1425.5 L915.0,1422.6 L919.0,1419.8 L923.0,1417.0 L927.0,1414.3 L931.0,1411.6 L935.0,1409.0 L939.0,1406.4 L943.0,1403.8 L947.0,1401.3 L951.0,1398.8 L955.0,1396.3 L959.0,1393.9 L963.0,1391.5 L967.0,1389.1 L971.0,1386.8 L975.0,1384.4 L979.0,1382.0 L983.0,1379.7 L987.0,1377.3 L991.0,1375.0 L995.0,1372.6 L999.0,1370.1 L1003.0,1367.7 L1007.0,1365.2 L1011.0,1362.7 L1015.0,1360.1 L1019.0,1357.6 L1023.0,1355.0 L1027.0,1352.4 L1031.0,1349.8 L1035.0,1347.3 L1039.0,1344.7 L1043.0,1342.1 L1047.0,1339.5 L1051.0,1336.9 L1055.0,1334.3 L1059.0,1331.6 L1063.0,1329.0 L1067.0,1326.3 L1071.0,1323.6 L1075.0,1320.9 L1079.0,1318.1 L1083.0,1315.2 L1087.0,1312.3 L1091.0,1309.3 L1095.0,1306.2 L1099.0,1303.1 L1103.0,1300.0 L1107.0,1296.8 L1111.0,1293.7 L1115.0,1290.5 L1119.0,1287.3 L1123.0,1284.1 L1127.0,1280.9 L1131.0,1277.7 L1135.0,1274.5 L1139.0,1271.3 L1143.0,1268.2 L1147.0,1265.0 L1151.0,1261.8 L1155.0,1258.7 L1159.0,1255.5 L1163.0,1252.4 L1167.0,1249.2 L1171.0,1246.1 L1175.0,1243.1 L1179.0,1240.1 L1183.0,1237.2 L1187.0,1234.4 L1191.0,1231.7 L1195.0,1229.1 L1199.0,1226.6 L1203.0,1224.1 L1207.0,1221.6 L1211.0,1219.1 L1215.0,1216.5 L1219.0,1213.7 L1223.0,1210.8 L1227.0,1207.8 L1231.0,1204.7 L1235.0,1201.5 L1239.0,1198.3 L1243.0,1195.0 L1247.0,1191.8 L1251.0,1188.5 L1255.0,1185.3 L1259.0,1182.1 L1263.0,1179.0 L1267.0,1176.1 L1271.0,1173.3 L1275.0,1170.7 L1279.0,1168.1 L1283.0,1165.5 L1287.0,1163.0 L1291.0,1160.5 L1295.0,1157.9 L1299.0,1155.3 L1303.0,1152.7 L1307.0,1150.1 L1311.0,1147.4 L1315.0,1144.7 L1319.0,1142.0 L1323.0,1139.2 L1327.0,1136.4 L1331.0,1133.5 L1335.0,1130.5 L1339.0,1127.4 L1343.0,1124.1 L1347.0,1120.7 L1351.0,1117.1 L1355.0,1113.5 L1359.0,1109.9 L1363.0,1106.4 L1367.0,1102.9 L1371.0,1099.6 L1375.0,1096.5 L1379.0,1093.5 L1383.0,1090.5 L1387.0,1087.6 L1391.0,1084.6 L1395.0,1081.5 L1399.0,1078.4 L1403.0,1075.1 L1407.0,1071.7 L1411.0,1068.3 L1415.0,1064.8 L1419.0,1061.3 L1423.0,1057.8 L1427.0,1054.3 L1431.0,1050.9 L1435.0,1047.4 L1439.0,1043.9 L1443.0,1040.4 L1447.0,1036.8 L1451.0,1033.1 L1455.0,1029.2 L1459.0,1025.3 L1463.0,1021.2 L1467.0,1017.1 L1471.0,1013.0 L1475.0,1008.8 L1479.0,1004.7 L1483.0,1000.6 L1487.0,996.6 L1491.0,992.5 L1495.0,988.6 L1499.0,984.6 L1503.0,980.6 L1507.0,976.6 L1511.0,972.6 L1515.0,968.6 L1519.0,964.6 L1523.0,960.6 L1527.0,956.6 L1531.0,952.6 L1535.0,948.6 L1539.0,944.5 L1543.0,940.5 L1547.0,936.4 L1551.0,932.2 L1555.0,927.9 L1559.0,923.6 L1563.0,919.1 L1567.0,914.6 L1571.0,909.9 L1575.0,905.2 L1579.0,900.3 L1583.0,895.3 L1587.0,890.2 L1591.0,884.9 L1595.0,879.5 L1599.0,873.8 L1603.0,868.0 L1607.0,862.0 L1611.0,855.9 L1615.0,849.7 L1619.0,843.4 L1623.0,837.1 L1627.0,830.9 L1631.0,824.7 L1635.0,818.5 L1639.0,812.4 L1643.0,806.2 L1647.0,799.9 L1651.0,793.6 L1655.0,787.1 L1659.0,780.5 L1663.0,773.8 L1667.0,767.1 L1671.0,760.6 L1675.0,754.2 L1679.0,747.9 L1683.0,741.9 L1687.0,736.0 L1691.0,730.2 L1695.0,724.6 L1699.0,719.2 L1703.0,713.8 L1707.0,708.6 L1711.0,703.5 L1715.0,698.6 L1719.0,693.7 L1723.0,689.1 L1727.0,684.5 L1731.0,680.1 L1735.0,675.8 L1739.0,671.6 L1743.0,667.6 L1747.0,663.8 L1751.0,660.2 L1755.0,656.8 L1759.0,653.7 L1763.0,650.9 L1767.0,648.3 L1771.0,646.0 L1775.0,644.0 L1779.0,642.2 L1783.0,640.7 L1787.0,639.4 L1791.0,638.3 L1795.0,637.4 L1799.0,636.6 L1803.0,635.9 L1807.0,635.2 L1811.0,634.6 L1815.0,634.1 L1819.0,633.6 L1823.0,633.1 L1827.0,632.6 L1831.0,632.2 L1835.0,631.7 L1839.0,631.3 L1843.0,630.8 L1847.0,630.3 L1851.0,629.9 L1855.0,629.4 L1859.0,628.9 L1863.0,628.4 L1867.0,627.9 L1871.0,627.4 L1875.0,627.0 L1879.0,626.5 L1883.0,626.0 L1887.0,625.6 L1891.0,625.1 L1895.0,624.7 L1899.0,624.2 L1903.0,623.8 L1907.0,623.4 L1911.0,622.9 L1915.0,622.5 L1919.0,622.1 L1923.0,621.7 L1927.0,621.3 L1930.0,621.0" fill="none" stroke="#0000ff" stroke-width="4.8" stroke-linejoin="round" stroke-linecap="round"/><path clip-path="url(#cc)" d="M267.0,1675.0 L271.0,1672.3 L275.0,1669.6 L279.0,1666.9 L283.0,1664.0 L287.0,1661.2 L291.0,1658.3 L295.0,1655.4 L299.0,1652.4 L303.0,1649.4 L307.0,1646.3 L311.0,1643.2 L315.0,1640.1 L319.0,1636.9 L323.0,1633.7 L327.0,1630.4 L331.0,1627.2 L335.0,1623.8 L339.0,1620.5 L343.0,1617.1 L347.0,1613.7 L351.0,1610.3 L355.0,1606.8 L359.0,1603.3 L363.0,1599.8 L367.0,1596.3 L371.0,1592.7 L375.0,1589.1 L379.0,1585.5 L383.0,1581.8 L387.0,1578.1 L391.0,1574.2 L395.0,1570.4 L399.0,1566.4 L403.0,1562.3 L407.0,1558.2 L411.0,1554.1 L415.0,1550.0 L419.0,1546.0 L423.0,1542.1 L427.0,1538.4 L431.0,1534.8 L435.0,1531.3 L439.0,1527.9 L443.0,1524.7 L447.0,1521.6 L451.0,1518.5 L455.0,1515.4 L459.0,1512.3 L463.0,1509.2 L467.0,1506.0 L471.0,1502.8 L475.0,1499.4 L479.0,1496.0 L483.0,1492.4 L487.0,1488.8 L491.0,1485.1 L495.0,1481.5 L499.0,1478.0 L503.0,1474.5 L507.0,1471.3 L511.0,1468.2 L515.0,1465.3 L519.0,1462.5 L523.0,1459.9 L527.0,1457.4 L531.0,1454.8 L535.0,1452.2 L539.0,1449.6 L543.0,1446.7 L547.0,1443.7 L551.0,1440.5 L555.0,1437.2 L559.0,1433.8 L563.0,1430.4 L567.0,1427.1 L571.0,1423.8 L575.0,1420.7 L579.0,1417.7 L583.0,1414.7 L587.0,1411.8 L591.0,1408.9 L595.0,1406.0 L599.0,1403.1 L603.0,1400.2 L607.0,1397.3 L611.0,1394.4 L615.0,1391.5 L619.0,1388.6 L623.0,1385.7 L627.0,1382.8 L631.0,1380.0 L635.0,1377.1 L639.0,1374.2 L643.0,1371.3 L647.0,1368.4 L651.0,1365.5 L655.0,1362.6 L659.0,1359.8 L663.0,1356.9 L667.0,1354.0 L671.0,1351.0 L675.0,1348.1 L679.0,1345.2 L683.0,1342.3 L687.0,1339.4 L691.0,1336.5 L695.0,1333.6 L699.0,1330.7 L703.0,1327.9 L707.0,1325.0 L711.0,1322.1 L715.0,1319.2 L719.0,1316.4 L723.0,1313.5 L727.0,1310.6 L731.0,1307.7 L735.0,1304.8 L739.0,1301.9 L743.0,1298.9 L747.0,1295.9 L751.0,1292.8 L755.0,1289.6 L759.0,1286.4 L763.0,1283.2 L767.0,1280.0 L771.0,1276.8 L775.0,1273.6 L779.0,1270.6 L783.0,1267.7 L787.0,1264.9 L791.0,1262.2 L795.0,1259.6 L799.0,1257.1 L803.0,1254.6 L807.0,1252.1 L811.0,1249.4 L815.0,1246.7 L819.0,1243.7 L823.0,1240.6 L827.0,1237.5 L831.0,1234.2 L835.0,1230.9 L839.0,1227.7 L843.0,1224.4 L847.0,1221.3 L851.0,1218.1 L855.0,1215.0 L859.0,1212.0 L863.0,1209.0 L867.0,1206.0 L871.0,1203.0 L875.0,1200.0 L879.0,1197.0 L883.0,1194.1 L887.0,1191.1 L891.0,1188.2 L895.0,1185.2 L899.0,1182.3 L903.0,1179.3 L907.0,1176.4 L911.0,1173.5 L915.0,1170.8 L919.0,1168.0 L923.0,1165.5 L927.0,1163.0 L931.0,1160.5 L935.0,1158.1 L939.0,1155.7 L943.0,1153.2 L947.0,1150.6 L951.0,1147.7 L955.0,1144.7 L959.0,1141.5 L963.0,1138.2 L967.0,1134.8 L971.0,1131.4 L975.0,1128.1 L979.0,1124.8 L983.0,1121.6 L987.0,1118.4 L991.0,1115.4 L995.0,1112.3 L999.0,1109.2 L1003.0,1106.2 L1007.0,1103.1 L1011.0,1099.9 L1015.0,1096.7 L1019.0,1093.5 L1023.0,1090.3 L1027.0,1087.1 L1031.0,1083.8 L1035.0,1080.6 L1039.0,1077.4 L1043.0,1074.1 L1047.0,1070.9 L1051.0,1067.8 L1055.0,1064.6 L1059.0,1061.5 L1063.0,1058.5 L1067.0,1055.4 L1071.0,1052.5 L1075.0,1049.6 L1079.0,1046.7 L1083.0,1043.9 L1087.0,1041.1 L1091.0,1038.3 L1095.0,1035.5 L1099.0,1032.7 L1103.0,1029.9 L1107.0,1027.1 L1111.0,1024.4 L1115.0,1021.6 L1119.0,1018.8 L1123.0,1016.1 L1127.0,1013.4 L1131.0,1010.6 L1135.0,1007.8 L1139.0,1005.0 L1143.0,1002.2 L1147.0,999.2 L1151.0,996.2 L1155.0,993.2 L1159.0,990.0 L1163.0,986.8 L1167.0,983.5 L1171.0,980.2 L1175.0,976.8 L1179.0,973.4 L1183.0,970.0 L1187.0,966.6 L1191.0,963.3 L1195.0,959.9 L1199.0,956.6 L1203.0,953.3 L1207.0,950.0 L1211.0,946.8 L1215.0,943.6 L1219.0,940.4 L1223.0,937.2 L1227.0,934.1 L1231.0,931.1 L1235.0,928.1 L1239.0,925.1 L1243.0,922.2 L1247.0,919.2 L1251.0,916.2 L1255.0,913.2 L1259.0,909.9 L1263.0,906.5 L1267.0,903.0 L1271.0,899.2 L1275.0,895.3 L1279.0,891.3 L1283.0,887.4 L1287.0,883.5 L1291.0,879.7 L1295.0,876.0 L1299.0,872.5 L1303.0,869.0 L1307.0,865.6 L1311.0,862.2 L1315.0,858.7 L1319.0,855.1 L1323.0,851.4 L1327.0,847.4 L1331.0,843.2 L1335.0,838.6 L1339.0,833.4 L1343.0,827.7 L1347.0,821.5 L1351.0,815.0 L1355.0,808.5 L1359.0,802.4 L1363.0,796.7 L1367.0,791.6 L1371.0,787.1 L1375.0,783.0 L1379.0,779.2 L1383.0,775.6 L1387.0,772.0 L1391.0,768.5 L1395.0,764.8 L1399.0,761.1 L1403.0,757.2 L1407.0,753.2 L1411.0,749.1 L1415.0,744.9 L1419.0,740.6 L1423.0,736.2 L1427.0,731.7 L1431.0,727.1 L1435.0,722.3 L1439.0,717.3 L1443.0,712.1 L1447.0,706.7 L1451.0,701.0 L1455.0,695.1 L1459.0,688.9 L1463.0,682.7 L1467.0,676.4 L1471.0,670.2 L1475.0,664.2 L1479.0,658.2 L1483.0,652.4 L1487.0,646.6 L1491.0,640.7 L1495.0,634.8 L1499.0,628.7 L1503.0,622.4 L1507.0,616.0 L1511.0,609.6 L1515.0,603.1 L1519.0,596.7 L1523.0,590.5 L1527.0,584.4 L1531.0,578.6 L1535.0,573.1 L1539.0,567.7 L1543.0,562.4 L1547.0,557.1 L1551.0,551.8 L1555.0,546.3 L1559.0,540.7 L1563.0,534.9 L1567.0,528.9 L1571.0,522.8 L1575.0,516.6 L1579.0,510.4 L1583.0,504.4 L1587.0,498.6 L1591.0,493.1 L1595.0,487.9 L1599.0,483.2 L1603.0,478.8 L1607.0,474.9 L1611.0,471.3 L1615.0,468.2 L1619.0,465.4 L1623.0,462.9 L1627.0,460.6 L1631.0,458.4 L1635.0,456.3 L1639.0,454.3 L1643.0,452.2 L1647.0,450.3 L1651.0,448.4 L1655.0,446.8 L1659.0,445.3 L1663.0,444.2 L1667.0,443.2 L1671.0,442.5 L1675.0,441.9 L1679.0,441.3 L1683.0,440.8 L1687.0,440.3 L1691.0,439.8 L1695.0,439.4 L1699.0,438.9 L1703.0,438.4 L1707.0,437.9 L1711.0,437.4 L1715.0,436.9 L1719.0,436.4 L1723.0,435.9 L1727.0,435.4 L1731.0,434.8 L1735.0,434.3 L1739.0,433.8 L1743.0,433.2 L1747.0,432.7 L1751.0,432.1 L1755.0,431.6 L1759.0,431.0 L1763.0,430.4 L1767.0,429.9 L1771.0,429.3 L1775.0,428.7 L1779.0,428.2 L1783.0,427.6 L1787.0,427.1 L1791.0,426.5 L1795.0,426.0 L1799.0,425.4 L1803.0,424.9 L1807.0,424.4 L1811.0,423.9 L1815.0,423.4 L1819.0,422.9 L1823.0,422.3 L1827.0,421.8 L1831.0,421.3 L1835.0,420.8 L1839.0,420.3 L1843.0,419.8 L1847.0,419.3 L1851.0,418.8 L1855.0,418.4 L1859.0,417.9 L1863.0,417.5 L1867.0,417.1 L1871.0,416.7 L1875.0,416.3 L1879.0,415.9 L1883.0,415.6 L1887.0,415.3 L1891.0,415.0 L1895.0,414.7 L1899.0,414.5 L1903.0,414.2 L1907.0,414.0 L1911.0,413.8 L1915.0,413.6 L1919.0,413.4 L1923.0,413.2 L1927.0,413.1 L1930.0,413.0" fill="none" stroke="#ff0000" stroke-width="4.8" stroke-linejoin="round" stroke-linecap="round"/><path clip-path="url(#cc)" d="M267.0,1445.0 L271.0,1441.9 L275.0,1438.7 L279.0,1435.4 L283.0,1432.1 L287.0,1428.8 L291.0,1425.4 L295.0,1422.0 L299.0,1418.6 L303.0,1415.1 L307.0,1411.6 L311.0,1408.0 L315.0,1404.4 L319.0,1400.7 L323.0,1397.0 L327.0,1393.1 L331.0,1389.2 L335.0,1385.2 L339.0,1381.2 L343.0,1377.1 L347.0,1373.1 L351.0,1369.1 L355.0,1365.1 L359.0,1361.3 L363.0,1357.6 L367.0,1354.0 L371.0,1350.6 L375.0,1347.3 L379.0,1344.1 L383.0,1341.0 L387.0,1337.9 L391.0,1334.7 L395.0,1331.5 L399.0,1328.2 L403.0,1324.7 L407.0,1321.2 L411.0,1317.6 L415.0,1313.9 L419.0,1310.3 L423.0,1306.7 L427.0,1303.2 L431.0,1299.7 L435.0,1296.3 L439.0,1292.9 L443.0,1289.6 L447.0,1286.2 L451.0,1282.8 L455.0,1279.2 L459.0,1275.5 L463.0,1271.8 L467.0,1267.9 L471.0,1264.0 L475.0,1260.1 L479.0,1256.2 L483.0,1252.4 L487.0,1248.7 L491.0,1245.1 L495.0,1241.7 L499.0,1238.3 L503.0,1235.1 L507.0,1231.9 L511.0,1228.8 L515.0,1225.8 L519.0,1222.8 L523.0,1219.9 L527.0,1217.0 L531.0,1214.1 L535.0,1211.1 L539.0,1208.1 L543.0,1204.9 L547.0,1201.5 L551.0,1198.1 L555.0,1194.5 L559.0,1190.8 L563.0,1187.1 L567.0,1183.3 L571.0,1179.6 L575.0,1175.9 L579.0,1172.2 L583.0,1168.7 L587.0,1165.2 L591.0,1161.8 L595.0,1158.5 L599.0,1155.3 L603.0,1152.2 L607.0,1149.1 L611.0,1146.1 L615.0,1143.1 L619.0,1140.1 L623.0,1137.2 L627.0,1134.4 L631.0,1131.5 L635.0,1128.6 L639.0,1125.7 L643.0,1122.7 L647.0,1119.5 L651.0,1116.3 L655.0,1113.1 L659.0,1109.7 L663.0,1106.4 L667.0,1103.1 L671.0,1099.9 L675.0,1096.8 L679.0,1093.8 L683.0,1090.9 L687.0,1088.1 L691.0,1085.4 L695.0,1082.6 L699.0,1079.8 L703.0,1077.0 L707.0,1074.0 L711.0,1071.0 L715.0,1068.0 L719.0,1064.8 L723.0,1061.7 L727.0,1058.4 L731.0,1055.2 L735.0,1051.9 L739.0,1048.5 L743.0,1045.2 L747.0,1041.8 L751.0,1038.5 L755.0,1035.2 L759.0,1031.9 L763.0,1028.7 L767.0,1025.5 L771.0,1022.3 L775.0,1019.2 L779.0,1016.1 L783.0,1012.9 L787.0,1009.8 L791.0,1006.8 L795.0,1003.7 L799.0,1000.6 L803.0,997.6 L807.0,994.5 L811.0,991.5 L815.0,988.4 L819.0,985.4 L823.0,982.3 L827.0,979.3 L831.0,976.1 L835.0,972.9 L839.0,969.7 L843.0,966.3 L847.0,962.9 L851.0,959.5 L855.0,956.0 L859.0,952.5 L863.0,949.0 L867.0,945.7 L871.0,942.4 L875.0,939.2 L879.0,936.0 L883.0,933.0 L887.0,929.9 L891.0,926.9 L895.0,923.8 L899.0,920.7 L903.0,917.6 L907.0,914.5 L911.0,911.3 L915.0,908.1 L919.0,904.9 L923.0,901.7 L927.0,898.6 L931.0,895.5 L935.0,892.4 L939.0,889.3 L943.0,886.3 L947.0,883.3 L951.0,880.4 L955.0,877.4 L959.0,874.4 L963.0,871.4 L967.0,868.3 L971.0,865.1 L975.0,861.9 L979.0,858.6 L983.0,855.3 L987.0,851.9 L991.0,848.4 L995.0,844.9 L999.0,841.4 L1003.0,837.8 L1007.0,834.2 L1011.0,830.6 L1015.0,827.0 L1019.0,823.4 L1023.0,819.9 L1027.0,816.4 L1031.0,812.9 L1035.0,809.6 L1039.0,806.3 L1043.0,803.1 L1047.0,799.9 L1051.0,796.7 L1055.0,793.4 L1059.0,790.0 L1063.0,786.4 L1067.0,782.6 L1071.0,778.8 L1075.0,775.0 L1079.0,771.3 L1083.0,767.8 L1087.0,764.4 L1091.0,761.2 L1095.0,758.2 L1099.0,755.2 L1103.0,752.2 L1107.0,749.2 L1111.0,746.0 L1115.0,742.6 L1119.0,739.0 L1123.0,735.1 L1127.0,730.9 L1131.0,726.6 L1135.0,722.1 L1139.0,717.7 L1143.0,713.3 L1147.0,709.0 L1151.0,704.9 L1155.0,701.0 L1159.0,697.4 L1163.0,693.8 L1167.0,690.3 L1171.0,686.7 L1175.0,683.0 L1179.0,679.2 L1183.0,675.1 L1187.0,670.8 L1191.0,666.4 L1195.0,661.9 L1199.0,657.3 L1203.0,652.6 L1207.0,648.0 L1211.0,643.4 L1215.0,638.8 L1219.0,634.3 L1223.0,629.8 L1227.0,625.3 L1231.0,620.9 L1235.0,616.5 L1239.0,612.2 L1243.0,608.0 L1247.0,603.8 L1251.0,599.5 L1255.0,595.2 L1259.0,590.7 L1263.0,585.8 L1267.0,580.6 L1271.0,575.1 L1275.0,569.2 L1279.0,563.1 L1283.0,556.9 L1287.0,550.8 L1291.0,544.9 L1295.0,539.3 L1299.0,533.9 L1303.0,528.7 L1307.0,523.6 L1311.0,518.6 L1315.0,513.6 L1319.0,508.5 L1323.0,503.4 L1327.0,498.2 L1331.0,492.9 L1335.0,487.4 L1339.0,481.7 L1343.0,475.7 L1347.0,469.5 L1351.0,463.0 L1355.0,456.3 L1359.0,449.5 L1363.0,442.7 L1367.0,436.0 L1371.0,429.4 L1375.0,422.8 L1379.0,416.1 L1383.0,409.4 L1387.0,402.8 L1391.0,396.2 L1395.0,389.8 L1399.0,383.6 L1403.0,377.5 L1407.0,371.4 L1411.0,365.2 L1415.0,358.8 L1419.0,352.2 L1423.0,345.5 L1427.0,338.8 L1431.0,332.1 L1435.0,325.4 L1439.0,319.0 L1443.0,312.7 L1447.0,306.7 L1451.0,300.9 L1455.0,295.3 L1459.0,290.2 L1463.0,285.4 L1467.0,281.2 L1471.0,277.4 L1475.0,274.0 L1479.0,270.9 L1483.0,268.0 L1487.0,265.2 L1491.0,262.5 L1495.0,259.9 L1499.0,257.4 L1503.0,255.1 L1507.0,252.9 L1511.0,250.9 L1515.0,249.0 L1519.0,247.3 L1523.0,245.8 L1527.0,244.4 L1531.0,243.2 L1535.0,242.2 L1539.0,241.3 L1543.0,240.5 L1547.0,239.8 L1551.0,239.1 L1555.0,238.5 L1559.0,238.0 L1563.0,237.5 L1567.0,237.0 L1571.0,236.6 L1575.0,236.2 L1579.0,235.8 L1583.0,235.5 L1587.0,235.2 L1591.0,234.8 L1595.0,234.6 L1599.0,234.3 L1603.0,234.0 L1607.0,233.7 L1611.0,233.4 L1615.0,233.1 L1619.0,232.8 L1623.0,232.5 L1627.0,232.2 L1631.0,231.9 L1635.0,231.5 L1639.0,231.2 L1643.0,230.8 L1647.0,230.4 L1651.0,230.1 L1655.0,229.7 L1659.0,229.3 L1663.0,228.9 L1667.0,228.5 L1671.0,228.1 L1675.0,227.6 L1679.0,227.2 L1683.0,226.7 L1687.0,226.3 L1691.0,225.8 L1695.0,225.3 L1699.0,224.8 L1703.0,224.3 L1707.0,223.7 L1711.0,223.1 L1715.0,222.6 L1719.0,222.0 L1723.0,221.4 L1727.0,220.8 L1731.0,220.3 L1735.0,219.8 L1739.0,219.3 L1743.0,218.8 L1747.0,218.4 L1751.0,218.0 L1755.0,217.7 L1759.0,217.3 L1763.0,217.0 L1767.0,216.7 L1771.0,216.5 L1775.0,216.2 L1779.0,215.9 L1783.0,215.7 L1787.0,215.4 L1791.0,215.2 L1795.0,215.0 L1799.0,214.8 L1803.0,214.6 L1807.0,214.4 L1811.0,214.2 L1815.0,214.0 L1819.0,213.8 L1823.0,213.6 L1827.0,213.4 L1831.0,213.1 L1835.0,212.8 L1839.0,212.3 L1843.0,211.8 L1847.0,211.0 L1851.0,210.1 L1855.0,208.9 L1859.0,207.5 L1863.0,205.8 L1867.0,203.7 L1871.0,201.5 L1872.0,201.0" fill="none" stroke="#000000" stroke-width="4.0" stroke-linejoin="round" stroke-linecap="round"/><g fill="none" stroke="#cf5a26" stroke-width="5"><circle cx="394.7" cy="2838.0" r="21.5"/><circle cx="453.0" cy="2729.0" r="21.5"/><circle cx="506.1" cy="2689.0" r="21.5"/><circle cx="564.6" cy="2664.0" r="21.5"/><circle cx="618.0" cy="2648.0" r="21.5"/><circle cx="676.4" cy="2608.0" r="21.5"/><circle cx="729.9" cy="2540.0" r="21.5"/><circle cx="787.5" cy="2480.0" r="21.5"/><circle cx="841.4" cy="2442.0" r="21.5"/><circle cx="899.0" cy="2414.0" r="21.5"/><circle cx="952.9" cy="2401.0" r="21.5"/><circle cx="1010.5" cy="2374.0" r="21.5"/><circle cx="1064.3" cy="2342.0" r="21.5"/><circle cx="1122.0" cy="2322.0" r="21.5"/><circle cx="1175.0" cy="2296.0" r="21.5"/><circle cx="1233.4" cy="2206.0" r="21.5"/><circle cx="1287.3" cy="2222.0" r="21.5"/><circle cx="1345.0" cy="2230.0" r="21.5"/><circle cx="1398.7" cy="2218.0" r="21.5"/><circle cx="1457.0" cy="2149.0" r="21.5"/><circle cx="1510.4" cy="2237.0" r="21.5"/><circle cx="1568.4" cy="2216.0" r="21.5"/><circle cx="1622.6" cy="2188.0" r="21.5"/><circle cx="1680.7" cy="2188.0" r="21.5"/><circle cx="1733.5" cy="2152.0" r="21.5"/><circle cx="1791.5" cy="2164.0" r="21.5"/><circle cx="1846.0" cy="1996.0" r="21.5"/><circle cx="1898.0" cy="2156.0" r="21.5"/></g><path d="M394.7,2816.0V2862.0M453.0,2698.0V2758.0M506.1,2655.0V2725.0M564.6,2628.0V2698.0M618.0,2620.0V2672.0M676.4,2576.0V2640.0M729.9,2518.0V2566.0M787.5,2463.0V2497.0M841.4,2422.0V2465.0M899.0,2402.0V2426.0M952.9,2381.0V2421.0M1010.5,2362.0V2386.0M1064.3,2322.0V2360.0M1122.0,2294.0V2348.0M1175.0,2274.0V2322.0M1233.4,2194.0V2218.0M1287.3,2210.0V2234.0M1345.0,2178.0V2278.0M1398.7,2190.0V2246.0M1457.0,2094.0V2204.0M1510.4,2200.0V2274.0M1568.4,2156.0V2274.0M1622.6,2152.0V2224.0M1680.7,2152.0V2226.0M1733.5,2078.0V2232.0M1791.5,2142.0V2184.0M1846.0,1944.0V2044.0M1898.0,2110.0V2206.0" fill="none" stroke="#c24400" stroke-width="6"/><path d="M370.2,2816.0H419.2M370.2,2862.0H419.2M428.5,2698.0H477.5M428.5,2758.0H477.5M481.6,2655.0H530.6M481.6,2725.0H530.6M540.1,2628.0H589.1M540.1,2698.0H589.1M593.5,2620.0H642.5M593.5,2672.0H642.5M651.9,2576.0H700.9M651.9,2640.0H700.9M705.4,2518.0H754.4M705.4,2566.0H754.4M763.0,2463.0H812.0M763.0,2497.0H812.0M816.9,2422.0H865.9M816.9,2465.0H865.9M874.5,2402.0H923.5M874.5,2426.0H923.5M928.4,2381.0H977.4M928.4,2421.0H977.4M986.0,2362.0H1035.0M986.0,2386.0H1035.0M1039.8,2322.0H1088.8M1039.8,2360.0H1088.8M1097.5,2294.0H1146.5M1097.5,2348.0H1146.5M1150.5,2274.0H1199.5M1150.5,2322.0H1199.5M1208.9,2194.0H1257.9M1208.9,2218.0H1257.9M1262.8,2210.0H1311.8M1262.8,2234.0H1311.8M1320.5,2178.0H1369.5M1320.5,2278.0H1369.5M1374.2,2190.0H1423.2M1374.2,2246.0H1423.2M1432.5,2094.0H1481.5M1432.5,2204.0H1481.5M1485.9,2200.0H1534.9M1485.9,2274.0H1534.9M1543.9,2156.0H1592.9M1543.9,2274.0H1592.9M1598.1,2152.0H1647.1M1598.1,2224.0H1647.1M1656.2,2152.0H1705.2M1656.2,2226.0H1705.2M1709.0,2078.0H1758.0M1709.0,2232.0H1758.0M1767.0,2142.0H1816.0M1767.0,2184.0H1816.0M1821.5,1944.0H1870.5M1821.5,2044.0H1870.5M1873.5,2110.0H1922.5M1873.5,2206.0H1922.5" fill="none" stroke="#c24400" stroke-width="6.4"/><g fill="none" stroke="#00ffff" stroke-width="5"><circle cx="394.7" cy="2538.0" r="21.5"/><circle cx="453.0" cy="2486.0" r="21.5"/><circle cx="506.1" cy="2444.0" r="21.5"/><circle cx="564.6" cy="2424.0" r="21.5"/><circle cx="618.0" cy="2368.0" r="21.5"/><circle cx="676.4" cy="2332.0" r="21.5"/><circle cx="729.9" cy="2286.0" r="21.5"/><circle cx="787.5" cy="2220.0" r="21.5"/><circle cx="841.4" cy="2188.0" r="21.5"/><circle cx="899.0" cy="2154.0" r="21.5"/><circle cx="952.9" cy="2151.0" r="21.5"/><circle cx="1010.5" cy="2088.0" r="21.5"/><circle cx="1064.3" cy="2070.0" r="21.5"/><circle cx="1122.0" cy="2032.0" r="21.5"/><circle cx="1175.0" cy="1990.0" r="21.5"/><circle cx="1233.4" cy="1967.0" r="21.5"/><circle cx="1287.3" cy="1952.0" r="21.5"/><circle cx="1345.0" cy="1925.0" r="21.5"/><circle cx="1398.7" cy="1906.0" r="21.5"/><circle cx="1457.0" cy="1920.0" r="21.5"/><circle cx="1510.4" cy="1924.0" r="21.5"/><circle cx="1568.4" cy="1796.0" r="21.5"/><circle cx="1622.6" cy="1826.0" r="21.5"/><circle cx="1680.7" cy="1828.0" r="21.5"/><circle cx="1733.5" cy="1744.0" r="21.5"/><circle cx="1791.5" cy="1754.0" r="21.5"/><circle cx="1846.0" cy="1874.0" r="21.5"/><circle cx="1898.0" cy="1860.0" r="21.5"/></g><path d="M394.7,2524.0V2556.0M453.0,2464.0V2508.0M506.1,2411.0V2481.0M564.6,2380.0V2464.0M618.0,2348.0V2390.0M676.4,2294.0V2364.0M729.9,2272.0V2300.0M787.5,2198.0V2242.0M841.4,2172.0V2206.0M899.0,2142.0V2166.0M952.9,2130.0V2174.0M1010.5,2074.0V2102.0M1064.3,2046.0V2092.0M1122.0,2008.0V2056.0M1175.0,1972.0V2010.0M1233.4,1948.0V1986.0M1287.3,1934.0V1976.0M1345.0,1892.0V1961.0M1398.7,1886.0V1926.0M1457.0,1896.0V1944.0M1510.4,1902.0V1950.0M1568.4,1746.0V1842.0M1622.6,1806.0V1848.0M1680.7,1752.0V1902.0M1733.5,1716.0V1774.0M1791.5,1716.0V1796.0M1846.0,1838.0V1912.0M1898.0,1806.0V1918.0" fill="none" stroke="#00ffff" stroke-width="6"/><path d="M370.2,2524.0H419.2M370.2,2556.0H419.2M428.5,2464.0H477.5M428.5,2508.0H477.5M481.6,2411.0H530.6M481.6,2481.0H530.6M540.1,2380.0H589.1M540.1,2464.0H589.1M593.5,2348.0H642.5M593.5,2390.0H642.5M651.9,2294.0H700.9M651.9,2364.0H700.9M705.4,2272.0H754.4M705.4,2300.0H754.4M763.0,2198.0H812.0M763.0,2242.0H812.0M816.9,2172.0H865.9M816.9,2206.0H865.9M874.5,2142.0H923.5M874.5,2166.0H923.5M928.4,2130.0H977.4M928.4,2174.0H977.4M986.0,2074.0H1035.0M986.0,2102.0H1035.0M1039.8,2046.0H1088.8M1039.8,2092.0H1088.8M1097.5,2008.0H1146.5M1097.5,2056.0H1146.5M1150.5,1972.0H1199.5M1150.5,2010.0H1199.5M1208.9,1948.0H1257.9M1208.9,1986.0H1257.9M1262.8,1934.0H1311.8M1262.8,1976.0H1311.8M1320.5,1892.0H1369.5M1320.5,1961.0H1369.5M1374.2,1886.0H1423.2M1374.2,1926.0H1423.2M1432.5,1896.0H1481.5M1432.5,1944.0H1481.5M1485.9,1902.0H1534.9M1485.9,1950.0H1534.9M1543.9,1746.0H1592.9M1543.9,1842.0H1592.9M1598.1,1806.0H1647.1M1598.1,1848.0H1647.1M1656.2,1752.0H1705.2M1656.2,1902.0H1705.2M1709.0,1716.0H1758.0M1709.0,1774.0H1758.0M1767.0,1716.0H1816.0M1767.0,1796.0H1816.0M1821.5,1838.0H1870.5M1821.5,1912.0H1870.5M1873.5,1806.0H1922.5M1873.5,1918.0H1922.5" fill="none" stroke="#00ffff" stroke-width="6.4"/><g fill="none" stroke="#ff00ff" stroke-width="5"><circle cx="394.7" cy="2302.0" r="21.5"/><circle cx="453.0" cy="2228.0" r="21.5"/><circle cx="506.1" cy="2188.0" r="21.5"/><circle cx="564.6" cy="2160.0" r="21.5"/><circle cx="618.0" cy="2094.0" r="21.5"/><circle cx="676.4" cy="2056.0" r="21.5"/><circle cx="729.9" cy="2008.0" r="21.5"/><circle cx="787.5" cy="1966.0" r="21.5"/><circle cx="841.4" cy="1928.0" r="21.5"/><circle cx="899.0" cy="1912.0" r="21.5"/><circle cx="952.9" cy="1886.0" r="21.5"/><circle cx="1010.5" cy="1806.0" r="21.5"/><circle cx="1064.3" cy="1812.0" r="21.5"/><circle cx="1122.0" cy="1786.0" r="21.5"/><circle cx="1175.0" cy="1736.0" r="21.5"/><circle cx="1233.4" cy="1732.0" r="21.5"/><circle cx="1287.3" cy="1724.0" r="21.5"/><circle cx="1345.0" cy="1664.0" r="21.5"/><circle cx="1398.7" cy="1690.0" r="21.5"/><circle cx="1457.0" cy="1599.0" r="21.5"/><circle cx="1510.4" cy="1726.0" r="21.5"/><circle cx="1568.4" cy="1698.0" r="21.5"/><circle cx="1622.6" cy="1674.0" r="21.5"/><circle cx="1680.7" cy="1582.0" r="21.5"/><circle cx="1733.5" cy="1486.0" r="21.5"/><circle cx="1791.5" cy="1562.0" r="21.5"/><circle cx="1846.0" cy="1252.0" r="21.5"/><circle cx="1898.0" cy="1474.0" r="21.5"/></g><path d="M394.7,2279.0V2327.0M453.0,2214.0V2246.0M506.1,2156.0V2221.0M564.6,2130.0V2188.0M618.0,2082.0V2106.0M676.4,2044.0V2068.0M729.9,1996.0V2020.0M787.5,1938.0V1998.0M841.4,1902.0V1954.0M899.0,1900.0V1924.0M952.9,1866.0V1904.0M1010.5,1792.0V1822.0M1064.3,1800.0V1824.0M1122.0,1772.0V1800.0M1175.0,1700.0V1774.0M1233.4,1718.0V1746.0M1287.3,1700.0V1746.0M1345.0,1644.0V1684.0M1398.7,1676.0V1704.0M1457.0,1583.0V1615.0M1510.4,1662.0V1790.0M1568.4,1662.0V1744.0M1622.6,1652.0V1694.0M1680.7,1510.0V1658.0M1733.5,1434.0V1546.0M1791.5,1486.0V1636.0M1846.0,1222.0V1284.0M1898.0,1440.0V1508.0" fill="none" stroke="#ff00ff" stroke-width="6"/><path d="M370.2,2279.0H419.2M370.2,2327.0H419.2M428.5,2214.0H477.5M428.5,2246.0H477.5M481.6,2156.0H530.6M481.6,2221.0H530.6M540.1,2130.0H589.1M540.1,2188.0H589.1M593.5,2082.0H642.5M593.5,2106.0H642.5M651.9,2044.0H700.9M651.9,2068.0H700.9M705.4,1996.0H754.4M705.4,2020.0H754.4M763.0,1938.0H812.0M763.0,1998.0H812.0M816.9,1902.0H865.9M816.9,1954.0H865.9M874.5,1900.0H923.5M874.5,1924.0H923.5M928.4,1866.0H977.4M928.4,1904.0H977.4M986.0,1792.0H1035.0M986.0,1822.0H1035.0M1039.8,1800.0H1088.8M1039.8,1824.0H1088.8M1097.5,1772.0H1146.5M1097.5,1800.0H1146.5M1150.5,1700.0H1199.5M1150.5,1774.0H1199.5M1208.9,1718.0H1257.9M1208.9,1746.0H1257.9M1262.8,1700.0H1311.8M1262.8,1746.0H1311.8M1320.5,1644.0H1369.5M1320.5,1684.0H1369.5M1374.2,1676.0H1423.2M1374.2,1704.0H1423.2M1432.5,1583.0H1481.5M1432.5,1615.0H1481.5M1485.9,1662.0H1534.9M1485.9,1790.0H1534.9M1543.9,1662.0H1592.9M1543.9,1744.0H1592.9M1598.1,1652.0H1647.1M1598.1,1694.0H1647.1M1656.2,1510.0H1705.2M1656.2,1658.0H1705.2M1709.0,1434.0H1758.0M1709.0,1546.0H1758.0M1767.0,1486.0H1816.0M1767.0,1636.0H1816.0M1821.5,1222.0H1870.5M1821.5,1284.0H1870.5M1873.5,1440.0H1922.5M1873.5,1508.0H1922.5" fill="none" stroke="#ff00ff" stroke-width="6.4"/><g fill="none" stroke="#00ff00" stroke-width="5"><circle cx="394.7" cy="2066.0" r="21.5"/><circle cx="453.0" cy="1979.0" r="21.5"/><circle cx="506.1" cy="1946.0" r="21.5"/><circle cx="564.6" cy="1914.0" r="21.5"/><circle cx="618.0" cy="1870.0" r="21.5"/><circle cx="676.4" cy="1844.0" r="21.5"/><circle cx="729.9" cy="1768.0" r="21.5"/><circle cx="787.5" cy="1722.0" r="21.5"/><circle cx="841.4" cy="1710.0" r="21.5"/><circle cx="899.0" cy="1678.0" r="21.5"/><circle cx="952.9" cy="1630.0" r="21.5"/><circle cx="1010.5" cy="1560.0" r="21.5"/><circle cx="1064.3" cy="1594.0" r="21.5"/><circle cx="1122.0" cy="1514.0" r="21.5"/><circle cx="1175.0" cy="1482.0" r="21.5"/><circle cx="1233.4" cy="1508.0" r="21.5"/><circle cx="1287.3" cy="1442.0" r="21.5"/><circle cx="1345.0" cy="1414.0" r="21.5"/><circle cx="1398.7" cy="1440.0" r="21.5"/><circle cx="1457.0" cy="1454.0" r="21.5"/><circle cx="1510.4" cy="1458.0" r="21.5"/><circle cx="1568.4" cy="1434.0" r="21.5"/><circle cx="1622.6" cy="1388.0" r="21.5"/><circle cx="1680.7" cy="1520.0" r="21.5"/><circle cx="1733.5" cy="1484.0" r="21.5"/><circle cx="1791.5" cy="1180.0" r="21.5"/><circle cx="1846.0" cy="1112.0" r="21.5"/></g><path d="M394.7,2052.0V2082.0M453.0,1962.0V1996.0M506.1,1896.0V1993.0M564.6,1892.0V1934.0M618.0,1844.0V1898.0M676.4,1816.0V1870.0M729.9,1748.0V1790.0M787.5,1708.0V1736.0M841.4,1684.0V1736.0M899.0,1664.0V1690.0M952.9,1614.0V1646.0M1010.5,1534.0V1588.0M1064.3,1582.0V1606.0M1122.0,1496.0V1528.0M1175.0,1450.0V1518.0M1233.4,1476.0V1534.0M1287.3,1420.0V1466.0M1345.0,1402.0V1430.0M1398.7,1402.0V1472.0M1457.0,1428.0V1482.0M1510.4,1418.0V1498.0M1568.4,1398.0V1472.0M1622.6,1324.0V1460.0M1680.7,1318.0V1726.0M1733.5,1424.0V1540.0M1791.5,956.0V1408.0M1846.0,924.0V1300.0" fill="none" stroke="#00ff00" stroke-width="6"/><path d="M370.2,2052.0H419.2M370.2,2082.0H419.2M428.5,1962.0H477.5M428.5,1996.0H477.5M481.6,1896.0H530.6M481.6,1993.0H530.6M540.1,1892.0H589.1M540.1,1934.0H589.1M593.5,1844.0H642.5M593.5,1898.0H642.5M651.9,1816.0H700.9M651.9,1870.0H700.9M705.4,1748.0H754.4M705.4,1790.0H754.4M763.0,1708.0H812.0M763.0,1736.0H812.0M816.9,1684.0H865.9M816.9,1736.0H865.9M874.5,1664.0H923.5M874.5,1690.0H923.5M928.4,1614.0H977.4M928.4,1646.0H977.4M986.0,1534.0H1035.0M986.0,1588.0H1035.0M1039.8,1582.0H1088.8M1039.8,1606.0H1088.8M1097.5,1496.0H1146.5M1097.5,1528.0H1146.5M1150.5,1450.0H1199.5M1150.5,1518.0H1199.5M1208.9,1476.0H1257.9M1208.9,1534.0H1257.9M1262.8,1420.0H1311.8M1262.8,1466.0H1311.8M1320.5,1402.0H1369.5M1320.5,1430.0H1369.5M1374.2,1402.0H1423.2M1374.2,1472.0H1423.2M1432.5,1428.0H1481.5M1432.5,1482.0H1481.5M1485.9,1418.0H1534.9M1485.9,1498.0H1534.9M1543.9,1398.0H1592.9M1543.9,1472.0H1592.9M1598.1,1324.0H1647.1M1598.1,1460.0H1647.1M1656.2,1318.0H1705.2M1656.2,1726.0H1705.2M1709.0,1424.0H1758.0M1709.0,1540.0H1758.0M1767.0,956.0H1816.0M1767.0,1408.0H1816.0M1821.5,924.0H1870.5M1821.5,1300.0H1870.5" fill="none" stroke="#00ff00" stroke-width="6.4"/><g fill="none" stroke="#1a1aff" stroke-width="5"><circle cx="394.7" cy="1831.0" r="21.5"/><circle cx="453.0" cy="1774.0" r="21.5"/><circle cx="506.1" cy="1716.0" r="21.5"/><circle cx="564.6" cy="1668.0" r="21.5"/><circle cx="618.0" cy="1648.0" r="21.5"/><circle cx="676.4" cy="1606.0" r="21.5"/><circle cx="729.9" cy="1532.0" r="21.5"/><circle cx="787.5" cy="1502.0" r="21.5"/><circle cx="841.4" cy="1448.0" r="21.5"/><circle cx="899.0" cy="1442.0" r="21.5"/><circle cx="952.9" cy="1388.0" r="21.5"/><circle cx="1010.5" cy="1340.0" r="21.5"/><circle cx="1064.3" cy="1338.0" r="21.5"/><circle cx="1122.0" cy="1288.0" r="21.5"/><circle cx="1175.0" cy="1254.0" r="21.5"/><circle cx="1233.4" cy="1218.0" r="21.5"/><circle cx="1287.3" cy="1258.0" r="21.5"/><circle cx="1345.0" cy="1168.0" r="21.5"/><circle cx="1398.7" cy="1220.0" r="21.5"/><circle cx="1457.0" cy="1356.0" r="21.5"/><circle cx="1510.4" cy="1206.0" r="21.5"/><circle cx="1568.4" cy="1134.0" r="21.5"/><circle cx="1622.6" cy="892.0" r="21.5"/><circle cx="1680.7" cy="784.0" r="21.5"/><circle cx="1733.5" cy="510.0" r="21.5"/><circle cx="1846.0" cy="603.0" r="21.5"/></g><path d="M394.7,1801.0V1866.0M453.0,1758.0V1790.0M506.1,1684.0V1748.0M564.6,1646.0V1690.0M618.0,1632.0V1664.0M676.4,1590.0V1626.0M729.9,1510.0V1552.0M787.5,1478.0V1524.0M841.4,1429.0V1470.0M899.0,1430.0V1454.0M952.9,1376.0V1400.0M1010.5,1306.0V1376.0M1064.3,1326.0V1350.0M1122.0,1276.0V1300.0M1175.0,1232.0V1272.0M1233.4,1174.0V1264.0M1287.3,1246.0V1270.0M1345.0,1146.0V1190.0M1398.7,1196.0V1242.0M1457.0,1302.0V1412.0M1510.4,1168.0V1248.0M1568.4,1074.0V1200.0M1622.6,834.0V946.0M1680.7,706.0V866.0M1733.5,404.0V616.0M1846.0,532.0V674.0" fill="none" stroke="#0000ff" stroke-width="6"/><path d="M370.2,1801.0H419.2M370.2,1866.0H419.2M428.5,1758.0H477.5M428.5,1790.0H477.5M481.6,1684.0H530.6M481.6,1748.0H530.6M540.1,1646.0H589.1M540.1,1690.0H589.1M593.5,1632.0H642.5M593.5,1664.0H642.5M651.9,1590.0H700.9M651.9,1626.0H700.9M705.4,1510.0H754.4M705.4,1552.0H754.4M763.0,1478.0H812.0M763.0,1524.0H812.0M816.9,1429.0H865.9M816.9,1470.0H865.9M874.5,1430.0H923.5M874.5,1454.0H923.5M928.4,1376.0H977.4M928.4,1400.0H977.4M986.0,1306.0H1035.0M986.0,1376.0H1035.0M1039.8,1326.0H1088.8M1039.8,1350.0H1088.8M1097.5,1276.0H1146.5M1097.5,1300.0H1146.5M1150.5,1232.0H1199.5M1150.5,1272.0H1199.5M1208.9,1174.0H1257.9M1208.9,1264.0H1257.9M1262.8,1246.0H1311.8M1262.8,1270.0H1311.8M1320.5,1146.0H1369.5M1320.5,1190.0H1369.5M1374.2,1196.0H1423.2M1374.2,1242.0H1423.2M1432.5,1302.0H1481.5M1432.5,1412.0H1481.5M1485.9,1168.0H1534.9M1485.9,1248.0H1534.9M1543.9,1074.0H1592.9M1543.9,1200.0H1592.9M1598.1,834.0H1647.1M1598.1,946.0H1647.1M1656.2,706.0H1705.2M1656.2,866.0H1705.2M1709.0,404.0H1758.0M1709.0,616.0H1758.0M1821.5,532.0H1870.5M1821.5,674.0H1870.5" fill="none" stroke="#0000ff" stroke-width="6.4"/><g fill="none" stroke="#ff1a1a" stroke-width="5"><circle cx="394.7" cy="1607.0" r="21.5"/><circle cx="453.0" cy="1533.0" r="21.5"/><circle cx="506.1" cy="1509.0" r="21.5"/><circle cx="564.6" cy="1440.0" r="21.5"/><circle cx="618.0" cy="1394.0" r="21.5"/><circle cx="676.4" cy="1366.0" r="21.5"/><circle cx="729.9" cy="1326.0" r="21.5"/><circle cx="787.5" cy="1206.0" r="21.5"/><circle cx="841.4" cy="1198.0" r="21.5"/><circle cx="899.0" cy="1196.0" r="21.5"/><circle cx="952.9" cy="1130.0" r="21.5"/><circle cx="1010.5" cy="1076.0" r="21.5"/><circle cx="1064.3" cy="1084.0" r="21.5"/><circle cx="1122.0" cy="1094.0" r="21.5"/><circle cx="1175.0" cy="1060.0" r="21.5"/><circle cx="1233.4" cy="1046.0" r="21.5"/><circle cx="1287.3" cy="922.0" r="21.5"/><circle cx="1345.0" cy="846.0" r="21.5"/><circle cx="1398.7" cy="692.0" r="21.5"/><circle cx="1457.0" cy="678.0" r="21.5"/><circle cx="1510.4" cy="786.0" r="21.5"/><circle cx="1568.4" cy="749.0" r="21.5"/><circle cx="1622.6" cy="468.0" r="21.5"/></g><path d="M394.7,1577.0V1637.0M453.0,1504.0V1562.0M506.1,1472.0V1546.0M564.6,1376.0V1502.0M618.0,1360.0V1424.0M676.4,1328.0V1408.0M729.9,1296.0V1354.0M787.5,1158.0V1258.0M841.4,1174.0V1220.0M899.0,1184.0V1210.0M952.9,1100.0V1164.0M1010.5,1052.0V1100.0M1064.3,1036.0V1132.0M1122.0,1036.0V1148.0M1175.0,1030.0V1096.0M1233.4,1009.0V1085.0M1287.3,850.0V994.0M1345.0,818.0V876.0M1398.7,578.0V808.0M1457.0,610.0V744.0M1510.4,738.0V834.0M1568.4,702.0V796.0M1622.6,383.0V552.0" fill="none" stroke="#ff0000" stroke-width="6"/><path d="M370.2,1577.0H419.2M370.2,1637.0H419.2M428.5,1504.0H477.5M428.5,1562.0H477.5M481.6,1472.0H530.6M481.6,1546.0H530.6M540.1,1376.0H589.1M540.1,1502.0H589.1M593.5,1360.0H642.5M593.5,1424.0H642.5M651.9,1328.0H700.9M651.9,1408.0H700.9M705.4,1296.0H754.4M705.4,1354.0H754.4M763.0,1158.0H812.0M763.0,1258.0H812.0M816.9,1174.0H865.9M816.9,1220.0H865.9M874.5,1184.0H923.5M874.5,1210.0H923.5M928.4,1100.0H977.4M928.4,1164.0H977.4M986.0,1052.0H1035.0M986.0,1100.0H1035.0M1039.8,1036.0H1088.8M1039.8,1132.0H1088.8M1097.5,1036.0H1146.5M1097.5,1148.0H1146.5M1150.5,1030.0H1199.5M1150.5,1096.0H1199.5M1208.9,1009.0H1257.9M1208.9,1085.0H1257.9M1262.8,850.0H1311.8M1262.8,994.0H1311.8M1320.5,818.0H1369.5M1320.5,876.0H1369.5M1374.2,578.0H1423.2M1374.2,808.0H1423.2M1432.5,610.0H1481.5M1432.5,744.0H1481.5M1485.9,738.0H1534.9M1485.9,834.0H1534.9M1543.9,702.0H1592.9M1543.9,796.0H1592.9M1598.1,383.0H1647.1M1598.1,552.0H1647.1" fill="none" stroke="#ff0000" stroke-width="6.4"/><g fill="none" stroke="#333333" stroke-width="4.2"><circle cx="394.7" cy="1361.0" r="21.5"/><circle cx="453.0" cy="1296.0" r="21.5"/><circle cx="506.1" cy="1245.0" r="21.5"/><circle cx="564.6" cy="1184.0" r="21.5"/><circle cx="618.0" cy="1166.0" r="21.5"/><circle cx="676.4" cy="1132.0" r="21.5"/><circle cx="729.9" cy="1090.0" r="21.5"/><circle cx="787.5" cy="1004.0" r="21.5"/><circle cx="841.4" cy="964.0" r="21.5"/><circle cx="899.0" cy="906.0" r="21.5"/><circle cx="952.9" cy="854.0" r="21.5"/><circle cx="1010.5" cy="782.0" r="21.5"/><circle cx="1064.3" cy="837.0" r="21.5"/><circle cx="1122.0" cy="847.0" r="21.5"/><circle cx="1175.0" cy="644.0" r="21.5"/><circle cx="1233.4" cy="662.0" r="21.5"/><circle cx="1287.3" cy="472.0" r="21.5"/><circle cx="1345.0" cy="344.0" r="21.5"/><circle cx="1398.7" cy="466.0" r="21.5"/><circle cx="1457.0" cy="340.0" r="21.5"/></g><path d="M394.7,1329.0V1392.0M453.0,1275.0V1318.0M506.1,1206.0V1281.0M564.6,1158.0V1210.0M618.0,1122.0V1200.0M676.4,1052.0V1212.0M729.9,1068.0V1116.0M787.5,972.0V1036.0M841.4,924.0V1010.0M899.0,850.0V962.0M952.9,824.0V886.0M1010.5,734.0V832.0M1064.3,770.0V904.0M1122.0,786.0V908.0M1175.0,584.0V706.0M1233.4,616.0V706.0M1287.3,408.0V542.0M1345.0,238.0V444.0M1398.7,397.0V536.0M1457.0,244.0V436.0" fill="none" stroke="#000000" stroke-width="6"/><path d="M370.2,1329.0H419.2M370.2,1392.0H419.2M428.5,1275.0H477.5M428.5,1318.0H477.5M481.6,1206.0H530.6M481.6,1281.0H530.6M540.1,1158.0H589.1M540.1,1210.0H589.1M593.5,1122.0H642.5M593.5,1200.0H642.5M651.9,1052.0H700.9M651.9,1212.0H700.9M705.4,1068.0H754.4M705.4,1116.0H754.4M763.0,972.0H812.0M763.0,1036.0H812.0M816.9,924.0H865.9M816.9,1010.0H865.9M874.5,850.0H923.5M874.5,962.0H923.5M928.4,824.0H977.4M928.4,886.0H977.4M986.0,734.0H1035.0M986.0,832.0H1035.0M1039.8,770.0H1088.8M1039.8,904.0H1088.8M1097.5,786.0H1146.5M1097.5,908.0H1146.5M1150.5,584.0H1199.5M1150.5,706.0H1199.5M1208.9,616.0H1257.9M1208.9,706.0H1257.9M1262.8,408.0H1311.8M1262.8,542.0H1311.8M1320.5,238.0H1369.5M1320.5,444.0H1369.5M1374.2,397.0H1423.2M1374.2,536.0H1423.2M1432.5,244.0H1481.5M1432.5,436.0H1481.5" fill="none" stroke="#000000" stroke-width="6.4"/><path d="M1791.5,30V340" fill="none" stroke="#0000ff" stroke-width="6"/><path d="M1767.0,340H1816.0" fill="none" stroke="#0000ff" stroke-width="6.4"/></g>
<rect x="266.6" y="37.6" width="1662.9" height="2878.4" fill="none" stroke="#333333" stroke-width="6"/>
<path d="M447.3,2916.0V2892.0M447.3,37.6V61.6M819.2,2916.0V2892.0M819.2,37.6V61.6M1191.3,2916.0V2892.0M1191.3,37.6V61.6M1563.4,2916.0V2892.0M1563.4,37.6V61.6M266.6,234.1H290.6M1929.5,234.1H1905.5M266.6,733.0H290.6M1929.5,733.0H1905.5M266.6,1227.5H290.6M1929.5,1227.5H1905.5M266.6,1725.5H290.6M1929.5,1725.5H1905.5M266.6,2221.0H290.6M1929.5,2221.0H1905.5M266.6,2720.0H290.6M1929.5,2720.0H1905.5" stroke="#333333" stroke-width="5" fill="none"/>
<text x="234" y="263.2" font-size="70" text-anchor="end" font-family="Liberation Sans, Arial, Helvetica, sans-serif" fill="#333333">5</text>
<text x="234" y="762.7" font-size="70" text-anchor="end" font-family="Liberation Sans, Arial, Helvetica, sans-serif" fill="#333333">4.5</text>
<text x="234" y="1262.0" font-size="70" text-anchor="end" font-family="Liberation Sans, Arial, Helvetica, sans-serif" fill="#333333">4</text>
<text x="234" y="1756.0" font-size="70" text-anchor="end" font-family="Liberation Sans, Arial, Helvetica, sans-serif" fill="#333333">3.5</text>
<text x="234" y="2255.0" font-size="70" text-anchor="end" font-family="Liberation Sans, Arial, Helvetica, sans-serif" fill="#333333">3</text>
<text x="234" y="2755.0" font-size="70" text-anchor="end" font-family="Liberation Sans, Arial, Helvetica, sans-serif" fill="#333333">2.5</text>
<text x="451.8" y="3019.5" font-size="70" text-anchor="middle" font-family="Liberation Sans, Arial, Helvetica, sans-serif" fill="#333333">30</text>
<text x="821.9" y="3019.5" font-size="70" text-anchor="middle" font-family="Liberation Sans, Arial, Helvetica, sans-serif" fill="#333333">40</text>
<text x="1190.3" y="3019.5" font-size="70" text-anchor="middle" font-family="Liberation Sans, Arial, Helvetica, sans-serif" fill="#333333">50</text>
<text x="1560.8" y="3019.5" font-size="70" text-anchor="middle" font-family="Liberation Sans, Arial, Helvetica, sans-serif" fill="#333333">60</text>
<text x="1934.3" y="3019.5" font-size="70" text-anchor="middle" font-family="Liberation Sans, Arial, Helvetica, sans-serif" fill="#333333">70</text>
<text x="883" y="3132" font-size="81" font-family="Liberation Sans, Arial, Helvetica, sans-serif" fill="#333333">Energy (eV)</text>
<text transform="translate(93.5,1771) rotate(-90)" x="0" y="0" font-size="81" font-family="Liberation Sans, Arial, Helvetica, sans-serif" fill="#333333">Group Delay (fs)</text>
<rect x="300.5" y="65" width="565" height="800.5" fill="#ffffff" stroke="#000000" stroke-width="6.5"/>
<line x1="323.5" y1="170.6" x2="410.0" y2="170.6" stroke="#000000" stroke-width="9"/>
<text x="433.0" y="187.7" font-size="55" textLength="191.5" lengthAdjust="spacingAndGlyphs" font-family="Liberation Sans, Arial, sans-serif" fill="#000000" stroke="#000000" stroke-width="1.1">4.98×10</text>
<text x="626.0" y="168.7" font-size="36" textLength="36.5" lengthAdjust="spacingAndGlyphs" font-family="Liberation Sans, Arial, sans-serif" fill="#000000" stroke="#000000" stroke-width="1.1">13</text>
<text x="676.4" y="187.7" font-size="55" textLength="145.0" lengthAdjust="spacingAndGlyphs" font-family="Liberation Sans, Arial, sans-serif" fill="#000000" stroke="#000000" stroke-width="1.1">W/cm</text>
<text x="819.5" y="164.7" font-size="30" textLength="18.3" lengthAdjust="spacingAndGlyphs" font-family="Liberation Sans, Arial, sans-serif" fill="#000000" stroke="#000000" stroke-width="1.1">2</text>
<line x1="323.5" y1="261.7" x2="410.0" y2="261.7" stroke="#ff0000" stroke-width="9"/>
<text x="432.8" y="291.5" font-size="55" textLength="191.5" lengthAdjust="spacingAndGlyphs" font-family="Liberation Sans, Arial, sans-serif" fill="#000000" stroke="#000000" stroke-width="1.1">5.43×10</text>
<text x="625.8" y="272.5" font-size="36" textLength="36.5" lengthAdjust="spacingAndGlyphs" font-family="Liberation Sans, Arial, sans-serif" fill="#000000" stroke="#000000" stroke-width="1.1">13</text>
<text x="676.2" y="291.5" font-size="55" textLength="145.0" lengthAdjust="spacingAndGlyphs" font-family="Liberation Sans, Arial, sans-serif" fill="#000000" stroke="#000000" stroke-width="1.1">W/cm</text>
<text x="819.3" y="268.5" font-size="30" textLength="18.3" lengthAdjust="spacingAndGlyphs" font-family="Liberation Sans, Arial, sans-serif" fill="#000000" stroke="#000000" stroke-width="1.1">2</text>
<line x1="323.5" y1="368.7" x2="410.0" y2="368.7" stroke="#0000ff" stroke-width="9"/>
<text x="436.6" y="379.4" font-size="55" textLength="191.5" lengthAdjust="spacingAndGlyphs" font-family="Liberation Sans, Arial, sans-serif" fill="#000000" stroke="#000000" stroke-width="1.1">5.89×10</text>
<text x="629.6" y="360.4" font-size="36" textLength="36.5" lengthAdjust="spacingAndGlyphs" font-family="Liberation Sans, Arial, sans-serif" fill="#000000" stroke="#000000" stroke-width="1.1">13</text>
<text x="680.0" y="379.4" font-size="55" textLength="145.0" lengthAdjust="spacingAndGlyphs" font-family="Liberation Sans, Arial, sans-serif" fill="#000000" stroke="#000000" stroke-width="1.1">W/cm</text>
<text x="823.1" y="356.4" font-size="30" textLength="18.3" lengthAdjust="spacingAndGlyphs" font-family="Liberation Sans, Arial, sans-serif" fill="#000000" stroke="#000000" stroke-width="1.1">2</text>
<line x1="323.5" y1="460.2" x2="410.0" y2="460.2" stroke="#00ff00" stroke-width="9"/>
<text x="437.2" y="485.7" font-size="55" textLength="191.5" lengthAdjust="spacingAndGlyphs" font-family="Liberation Sans, Arial, sans-serif" fill="#000000" stroke="#000000" stroke-width="1.1">6.34×10</text>
<text x="630.2" y="466.7" font-size="36" textLength="36.5" lengthAdjust="spacingAndGlyphs" font-family="Liberation Sans, Arial, sans-serif" fill="#000000" stroke="#000000" stroke-width="1.1">13</text>
<text x="680.6" y="485.7" font-size="55" textLength="145.0" lengthAdjust="spacingAndGlyphs" font-family="Liberation Sans, Arial, sans-serif" fill="#000000" stroke="#000000" stroke-width="1.1">W/cm</text>
<text x="823.7" y="462.7" font-size="30" textLength="18.3" lengthAdjust="spacingAndGlyphs" font-family="Liberation Sans, Arial, sans-serif" fill="#000000" stroke="#000000" stroke-width="1.1">2</text>
<line x1="323.5" y1="565.9" x2="410.0" y2="565.9" stroke="#ff1aff" stroke-width="9"/>
<text x="433.7" y="586.8" font-size="55" textLength="191.5" lengthAdjust="spacingAndGlyphs" font-family="Liberation Sans, Arial, sans-serif" fill="#000000" stroke="#000000" stroke-width="1.1">6.79×10</text>
<text x="626.7" y="567.8" font-size="36" textLength="36.5" lengthAdjust="spacingAndGlyphs" font-family="Liberation Sans, Arial, sans-serif" fill="#000000" stroke="#000000" stroke-width="1.1">13</text>
<text x="677.1" y="586.8" font-size="55" textLength="145.0" lengthAdjust="spacingAndGlyphs" font-family="Liberation Sans, Arial, sans-serif" fill="#000000" stroke="#000000" stroke-width="1.1">W/cm</text>
<text x="820.2" y="563.8" font-size="30" textLength="18.3" lengthAdjust="spacingAndGlyphs" font-family="Liberation Sans, Arial, sans-serif" fill="#000000" stroke="#000000" stroke-width="1.1">2</text>
<line x1="326.5" y1="679.8" x2="413.5" y2="679.8" stroke="#00ffff" stroke-width="9"/>
<text x="439.6" y="705.6" font-size="55" textLength="191.5" lengthAdjust="spacingAndGlyphs" font-family="Liberation Sans, Arial, sans-serif" fill="#000000" stroke="#000000" stroke-width="1.1">7.51×10</text>
<text x="632.6" y="686.6" font-size="36" textLength="36.5" lengthAdjust="spacingAndGlyphs" font-family="Liberation Sans, Arial, sans-serif" fill="#000000" stroke="#000000" stroke-width="1.1">13</text>
<text x="683.0" y="705.6" font-size="55" textLength="145.0" lengthAdjust="spacingAndGlyphs" font-family="Liberation Sans, Arial, sans-serif" fill="#000000" stroke="#000000" stroke-width="1.1">W/cm</text>
<text x="826.1" y="682.6" font-size="30" textLength="18.3" lengthAdjust="spacingAndGlyphs" font-family="Liberation Sans, Arial, sans-serif" fill="#000000" stroke="#000000" stroke-width="1.1">2</text>
<line x1="326.5" y1="787.0" x2="413.5" y2="787.0" stroke="#a81500" stroke-width="9"/>
<text x="438.1" y="807.6" font-size="55" textLength="191.5" lengthAdjust="spacingAndGlyphs" font-family="Liberation Sans, Arial, sans-serif" fill="#000000" stroke="#000000" stroke-width="1.1">8.51×10</text>
<text x="631.1" y="788.6" font-size="36" textLength="36.5" lengthAdjust="spacingAndGlyphs" font-family="Liberation Sans, Arial, sans-serif" fill="#000000" stroke="#000000" stroke-width="1.1">13</text>
<text x="681.5" y="807.6" font-size="55" textLength="145.0" lengthAdjust="spacingAndGlyphs" font-family="Liberation Sans, Arial, sans-serif" fill="#000000" stroke="#000000" stroke-width="1.1">W/cm</text>
<text x="824.6" y="784.6" font-size="30" textLength="18.3" lengthAdjust="spacingAndGlyphs" font-family="Liberation Sans, Arial, sans-serif" fill="#000000" stroke="#000000" stroke-width="1.1">2</text>
<text x="1385.7" y="2690" font-size="216" textLength="121.7" lengthAdjust="spacingAndGlyphs" font-family="Liberation Sans, Arial, sans-serif" fill="#000000" stroke="#ffffff" stroke-width="2.2">C</text>
<text x="1513.9" y="2690" font-size="213" textLength="133.1" lengthAdjust="spacingAndGlyphs" font-family="Liberation Sans, Arial, sans-serif" fill="#000000" stroke="#ffffff" stroke-width="2.2">H</text>
<text x="1653.8" y="2746.5" font-size="146" textLength="77.1" lengthAdjust="spacingAndGlyphs" font-family="Liberation Sans, Arial, sans-serif" fill="#000000" stroke="#ffffff" stroke-width="2.2">4</text>
</svg></div></body></html>
